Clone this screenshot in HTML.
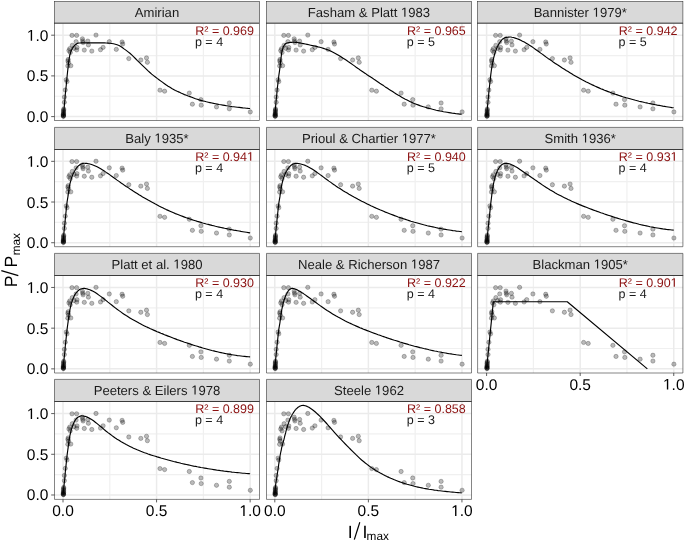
<!DOCTYPE html><html><head><meta charset="utf-8"><title>P/Pmax fits</title><style>html,body{margin:0;padding:0;background:#fff;overflow:hidden}svg{display:block;will-change:transform}text{font-family:"Liberation Sans",sans-serif;text-rendering:geometricPrecision}</style><style>circle{fill:#000;fill-opacity:.27;stroke:#000;stroke-opacity:.3;stroke-width:.8}.cv{fill:none;stroke:#000;stroke-width:1.15;stroke-linejoin:round}.bd{stroke:#333;stroke-width:0.6}.tk{stroke:#333;stroke-width:0.8}.r2{font-size:12.5px;fill:#8B1010}.pp{font-size:12.5px;fill:#1a1a1a}.st{font-size:13.1px;fill:#1A1A1A;text-anchor:middle}.h1{fill-opacity:0}.ax{font-size:15.5px;fill:#000}</style></head><body>
<svg width="685" height="542" viewBox="0 0 685 542">
<rect x="0" y="0" width="685" height="542" fill="#fff"/>
<line x1="109.79" y1="23.40" x2="109.79" y2="120.50" stroke="#F0F0F0" stroke-width="1.2"/>
<line x1="54.50" y1="96.25" x2="259.50" y2="96.25" stroke="#F0F0F0" stroke-width="1.2"/>
<line x1="203.36" y1="23.40" x2="203.36" y2="120.50" stroke="#F0F0F0" stroke-width="1.2"/>
<line x1="54.50" y1="55.55" x2="259.50" y2="55.55" stroke="#F0F0F0" stroke-width="1.2"/>
<line x1="63.00" y1="23.40" x2="63.00" y2="120.50" stroke="#EBEBEB" stroke-width="1.5"/>
<line x1="54.50" y1="116.60" x2="259.50" y2="116.60" stroke="#EBEBEB" stroke-width="1.5"/>
<line x1="156.57" y1="23.40" x2="156.57" y2="120.50" stroke="#EBEBEB" stroke-width="1.5"/>
<line x1="54.50" y1="75.90" x2="259.50" y2="75.90" stroke="#EBEBEB" stroke-width="1.5"/>
<line x1="250.15" y1="23.40" x2="250.15" y2="120.50" stroke="#EBEBEB" stroke-width="1.5"/>
<line x1="54.50" y1="35.20" x2="259.50" y2="35.20" stroke="#EBEBEB" stroke-width="1.5"/>
<circle cx="72.00" cy="35.40" r="2.15"/>
<circle cx="76.60" cy="35.40" r="2.15"/>
<circle cx="96.00" cy="35.10" r="2.15"/>
<circle cx="82.40" cy="38.80" r="2.15"/>
<circle cx="76.10" cy="41.70" r="2.15"/>
<circle cx="87.80" cy="41.10" r="2.15"/>
<circle cx="83.10" cy="42.60" r="2.15"/>
<circle cx="88.40" cy="44.90" r="2.15"/>
<circle cx="72.30" cy="45.30" r="2.15"/>
<circle cx="69.70" cy="48.70" r="2.15"/>
<circle cx="77.00" cy="47.50" r="2.15"/>
<circle cx="76.70" cy="49.90" r="2.15"/>
<circle cx="84.30" cy="50.10" r="2.15"/>
<circle cx="91.80" cy="51.10" r="2.15"/>
<circle cx="70.30" cy="52.50" r="2.15"/>
<circle cx="100.50" cy="49.70" r="2.15"/>
<circle cx="103.10" cy="47.40" r="2.15"/>
<circle cx="109.30" cy="41.70" r="2.15"/>
<circle cx="116.30" cy="49.40" r="2.15"/>
<circle cx="122.10" cy="42.00" r="2.15"/>
<circle cx="122.70" cy="44.00" r="2.15"/>
<circle cx="128.80" cy="58.60" r="2.15"/>
<circle cx="140.80" cy="60.00" r="2.15"/>
<circle cx="146.50" cy="57.90" r="2.15"/>
<circle cx="147.40" cy="62.30" r="2.15"/>
<circle cx="160.00" cy="90.20" r="2.15"/>
<circle cx="164.60" cy="91.20" r="2.15"/>
<circle cx="189.30" cy="93.10" r="2.15"/>
<circle cx="192.40" cy="104.20" r="2.15"/>
<circle cx="200.90" cy="99.60" r="2.15"/>
<circle cx="201.20" cy="105.20" r="2.15"/>
<circle cx="216.50" cy="106.90" r="2.15"/>
<circle cx="229.30" cy="103.00" r="2.15"/>
<circle cx="229.30" cy="108.80" r="2.15"/>
<circle cx="250.30" cy="111.90" r="2.15"/>
<circle cx="68.90" cy="50.60" r="2.15"/>
<circle cx="67.90" cy="61.00" r="2.15"/>
<circle cx="70.80" cy="65.70" r="2.15"/>
<circle cx="67.80" cy="65.90" r="2.15"/>
<circle cx="66.30" cy="79.70" r="2.15"/>
<circle cx="67.00" cy="81.60" r="2.15"/>
<circle cx="65.30" cy="90.00" r="2.15"/>
<circle cx="64.40" cy="97.10" r="2.15"/>
<circle cx="64.40" cy="102.30" r="2.15"/>
<circle cx="63.70" cy="110.00" r="2.15"/>
<circle cx="63.50" cy="113.20" r="2.15"/>
<circle cx="63.50" cy="115.80" r="2.15"/>
<circle cx="63.30" cy="114.50" r="2.15"/>
<circle cx="63.60" cy="112.00" r="2.15"/>
<circle cx="63.40" cy="116.00" r="2.15"/>
<circle cx="73.90" cy="48.30" r="2.15"/>
<circle cx="68.20" cy="59.50" r="2.15"/>
<circle cx="68.60" cy="62.80" r="2.15"/>
<circle cx="63.50" cy="111.00" r="2.15"/>
<circle cx="63.60" cy="114.00" r="2.15"/>
<circle cx="63.40" cy="116.30" r="2.15"/>
<circle cx="63.70" cy="109.00" r="2.15"/>
<circle cx="63.30" cy="115.20" r="2.15"/>
<circle cx="82.70" cy="40.90" r="2.15"/>
<path d="M63.0,116.6L63.3,115.7L63.6,114.1L63.8,111.7L64.1,108.6L64.4,105.1L64.7,101.6L65.0,98.4L65.2,95.4L65.5,92.5L65.8,89.5L66.1,86.7L66.4,83.8L66.7,81.0L66.9,78.1L67.2,75.3L67.5,72.5L67.8,69.8L68.1,67.4L68.3,65.0L68.6,62.7L68.9,60.5L69.2,58.5L69.5,56.9L69.7,55.6L70.0,54.5L70.3,53.5L70.6,52.6L70.9,51.8L71.1,51.1L71.4,50.4L71.7,49.8L72.0,49.2L72.3,48.7L72.6,48.2L72.8,47.7L73.1,47.3L73.4,46.9L73.7,46.5L74.0,46.1L74.2,45.8L74.5,45.5L74.8,45.3L75.1,45.0L75.4,44.8L75.6,44.6L75.9,44.4L76.2,44.2L76.5,44.0L76.8,43.8L77.0,43.6L77.3,43.5L77.6,43.3L77.9,43.2L78.2,43.1L78.4,43.1L78.7,43.0L79.0,43.0L79.3,43.0L79.6,43.0L79.9,43.0L80.1,43.0L80.4,43.0L80.7,43.0L81.0,42.9L81.3,42.9L81.5,42.9L81.8,42.9L82.1,42.9L82.4,42.9L82.7,42.9L82.9,42.9L83.2,42.9L83.5,42.9L83.8,42.9L84.1,42.9L84.3,42.9L84.6,42.9L84.9,42.9L85.2,42.9L85.5,42.9L85.8,42.9L86.0,42.9L86.3,42.9L86.6,42.9L86.9,42.9L87.2,42.9L87.4,42.9L87.7,42.9L88.0,42.9L89.8,42.9L91.6,42.9L93.5,42.9L95.3,42.9L97.1,42.9L98.9,42.9L100.7,42.9L102.6,42.9L104.4,42.9L106.2,43.0L108.0,43.1L109.9,43.3L111.7,43.5L113.5,43.8L115.3,44.2L117.1,44.8L119.0,45.5L120.8,46.5L122.6,47.7L124.4,49.1L126.2,50.4L128.1,51.9L129.9,53.3L131.7,54.9L133.5,56.6L135.4,58.5L137.2,60.4L139.0,62.2L140.8,63.9L142.6,65.6L144.5,67.4L146.3,69.1L148.1,70.9L149.9,72.5L151.7,74.1L153.6,75.6L155.4,77.0L157.2,78.4L159.0,79.7L160.9,81.1L162.7,82.4L164.5,83.7L166.3,85.0L168.1,86.2L170.0,87.3L171.8,88.4L173.6,89.4L175.4,90.4L177.2,91.3L179.1,92.1L180.9,93.0L182.7,93.8L184.5,94.6L186.4,95.3L188.2,96.0L190.0,96.6L191.8,97.3L193.6,98.0L195.5,98.7L197.3,99.3L199.1,99.9L200.9,100.4L202.7,100.9L204.6,101.3L206.4,101.8L208.2,102.2L210.0,102.6L211.9,103.0L213.7,103.4L215.5,103.7L217.3,104.1L219.1,104.5L221.0,104.8L222.8,105.1L224.6,105.4L226.4,105.7L228.2,106.0L230.1,106.3L231.9,106.6L233.7,106.8L235.5,107.0L237.4,107.2L239.2,107.4L241.0,107.6L242.8,107.9L244.6,108.0L246.5,108.2L248.3,108.4L250.1,108.5" class="cv"/>
<text x="195.24" y="34.60" class="r2">R² = 0.969</text>
<text x="194.94" y="45.70" class="pp">p = 4</text>
<rect x="54.50" y="1.50" width="205.00" height="21.45" fill="#D9D9D9" class="bd"/>
<rect x="54.50" y="23.40" width="205.00" height="97.10" fill="none" class="bd"/>
<text x="157.00" y="16.65" class="st">Amirian</text>
<line x1="51.20" y1="116.60" x2="54.50" y2="116.60" class="tk"/>
<text x="48.40" y="122.10" class="ax" text-anchor="end">0.0</text>
<line x1="51.20" y1="75.90" x2="54.50" y2="75.90" class="tk"/>
<text x="48.40" y="81.40" class="ax" text-anchor="end">0.5</text>
<line x1="51.20" y1="35.20" x2="54.50" y2="35.20" class="tk"/>
<text x="48.40" y="40.70" class="ax" text-anchor="end"><tspan class="h1">1</tspan>.0</text>
<line x1="321.59" y1="23.40" x2="321.59" y2="120.50" stroke="#F0F0F0" stroke-width="1.2"/>
<line x1="266.50" y1="96.25" x2="471.50" y2="96.25" stroke="#F0F0F0" stroke-width="1.2"/>
<line x1="415.16" y1="23.40" x2="415.16" y2="120.50" stroke="#F0F0F0" stroke-width="1.2"/>
<line x1="266.50" y1="55.55" x2="471.50" y2="55.55" stroke="#F0F0F0" stroke-width="1.2"/>
<line x1="274.80" y1="23.40" x2="274.80" y2="120.50" stroke="#EBEBEB" stroke-width="1.5"/>
<line x1="266.50" y1="116.60" x2="471.50" y2="116.60" stroke="#EBEBEB" stroke-width="1.5"/>
<line x1="368.38" y1="23.40" x2="368.38" y2="120.50" stroke="#EBEBEB" stroke-width="1.5"/>
<line x1="266.50" y1="75.90" x2="471.50" y2="75.90" stroke="#EBEBEB" stroke-width="1.5"/>
<line x1="461.95" y1="23.40" x2="461.95" y2="120.50" stroke="#EBEBEB" stroke-width="1.5"/>
<line x1="266.50" y1="35.20" x2="471.50" y2="35.20" stroke="#EBEBEB" stroke-width="1.5"/>
<circle cx="283.80" cy="35.40" r="2.15"/>
<circle cx="288.40" cy="35.40" r="2.15"/>
<circle cx="307.80" cy="35.10" r="2.15"/>
<circle cx="294.20" cy="38.80" r="2.15"/>
<circle cx="287.90" cy="41.70" r="2.15"/>
<circle cx="299.60" cy="41.10" r="2.15"/>
<circle cx="294.90" cy="42.60" r="2.15"/>
<circle cx="300.20" cy="44.90" r="2.15"/>
<circle cx="284.10" cy="45.30" r="2.15"/>
<circle cx="281.50" cy="48.70" r="2.15"/>
<circle cx="288.80" cy="47.50" r="2.15"/>
<circle cx="288.50" cy="49.90" r="2.15"/>
<circle cx="296.10" cy="50.10" r="2.15"/>
<circle cx="303.60" cy="51.10" r="2.15"/>
<circle cx="282.10" cy="52.50" r="2.15"/>
<circle cx="312.30" cy="49.70" r="2.15"/>
<circle cx="314.90" cy="47.40" r="2.15"/>
<circle cx="321.10" cy="41.70" r="2.15"/>
<circle cx="328.10" cy="49.40" r="2.15"/>
<circle cx="333.90" cy="42.00" r="2.15"/>
<circle cx="334.50" cy="44.00" r="2.15"/>
<circle cx="340.60" cy="58.60" r="2.15"/>
<circle cx="352.60" cy="60.00" r="2.15"/>
<circle cx="358.30" cy="57.90" r="2.15"/>
<circle cx="359.20" cy="62.30" r="2.15"/>
<circle cx="371.80" cy="90.20" r="2.15"/>
<circle cx="376.40" cy="91.20" r="2.15"/>
<circle cx="401.10" cy="93.10" r="2.15"/>
<circle cx="404.20" cy="104.20" r="2.15"/>
<circle cx="412.70" cy="99.60" r="2.15"/>
<circle cx="413.00" cy="105.20" r="2.15"/>
<circle cx="428.30" cy="106.90" r="2.15"/>
<circle cx="441.10" cy="103.00" r="2.15"/>
<circle cx="441.10" cy="108.80" r="2.15"/>
<circle cx="462.10" cy="111.90" r="2.15"/>
<circle cx="280.70" cy="50.60" r="2.15"/>
<circle cx="279.70" cy="61.00" r="2.15"/>
<circle cx="282.60" cy="65.70" r="2.15"/>
<circle cx="279.60" cy="65.90" r="2.15"/>
<circle cx="278.10" cy="79.70" r="2.15"/>
<circle cx="278.80" cy="81.60" r="2.15"/>
<circle cx="277.10" cy="90.00" r="2.15"/>
<circle cx="276.20" cy="97.10" r="2.15"/>
<circle cx="276.20" cy="102.30" r="2.15"/>
<circle cx="275.50" cy="110.00" r="2.15"/>
<circle cx="275.30" cy="113.20" r="2.15"/>
<circle cx="275.30" cy="115.80" r="2.15"/>
<circle cx="275.10" cy="114.50" r="2.15"/>
<circle cx="275.40" cy="112.00" r="2.15"/>
<circle cx="275.20" cy="116.00" r="2.15"/>
<circle cx="285.70" cy="48.30" r="2.15"/>
<circle cx="280.00" cy="59.50" r="2.15"/>
<circle cx="280.40" cy="62.80" r="2.15"/>
<circle cx="275.30" cy="111.00" r="2.15"/>
<circle cx="275.40" cy="114.00" r="2.15"/>
<circle cx="275.20" cy="116.30" r="2.15"/>
<circle cx="275.50" cy="109.00" r="2.15"/>
<circle cx="275.10" cy="115.20" r="2.15"/>
<circle cx="294.50" cy="40.90" r="2.15"/>
<path d="M274.8,116.6L275.1,113.1L275.4,109.7L275.6,106.4L275.9,103.2L276.2,100.1L276.5,97.1L276.8,94.2L277.0,91.4L277.3,88.6L277.6,86.0L277.9,83.5L278.2,81.0L278.5,78.7L278.7,76.5L279.0,74.4L279.3,72.3L279.6,70.1L279.9,67.9L280.1,65.5L280.4,63.0L280.7,60.4L281.0,58.0L281.3,56.0L281.5,54.1L281.8,52.3L282.1,50.9L282.4,49.8L282.7,48.8L282.9,47.9L283.2,47.1L283.5,46.5L283.8,45.9L284.1,45.5L284.4,45.1L284.6,44.7L284.9,44.3L285.2,44.0L285.5,43.8L285.8,43.6L286.0,43.4L286.3,43.3L286.6,43.2L286.9,43.1L287.2,43.0L287.4,42.9L287.7,42.8L288.0,42.7L288.3,42.7L288.6,42.6L288.8,42.6L289.1,42.5L289.4,42.5L289.7,42.5L290.0,42.4L290.2,42.4L290.5,42.4L290.8,42.3L291.1,42.3L291.4,42.3L291.7,42.3L291.9,42.3L292.2,42.2L292.5,42.2L292.8,42.2L293.1,42.2L293.3,42.2L293.6,42.2L293.9,42.2L294.2,42.2L294.5,42.2L294.7,42.2L295.0,42.3L295.3,42.3L295.6,42.3L295.9,42.3L296.1,42.4L296.4,42.4L296.7,42.4L297.0,42.5L297.3,42.5L297.6,42.5L297.8,42.6L298.1,42.6L298.4,42.7L298.7,42.7L299.0,42.7L299.2,42.8L299.5,42.8L299.8,42.9L301.6,43.2L303.4,43.6L305.3,44.0L307.1,44.4L308.9,44.8L310.7,45.2L312.5,45.6L314.4,46.0L316.2,46.4L318.0,46.9L319.8,47.3L321.6,47.8L323.4,48.4L325.3,49.0L327.1,49.6L328.9,50.3L330.7,51.1L332.5,52.0L334.4,52.9L336.2,53.9L338.0,54.9L339.8,56.0L341.6,57.2L343.5,58.4L345.3,59.6L347.1,60.8L348.9,62.1L350.7,63.3L352.6,64.6L354.4,65.9L356.2,67.2L358.0,68.4L359.8,69.7L361.6,70.9L363.5,72.2L365.3,73.4L367.1,74.7L368.9,75.9L370.7,77.1L372.6,78.3L374.4,79.6L376.2,80.8L378.0,82.0L379.8,83.2L381.7,84.4L383.5,85.6L385.3,86.9L387.1,88.1L388.9,89.3L390.8,90.4L392.6,91.6L394.4,92.8L396.2,93.9L398.0,95.0L399.9,96.1L401.7,97.2L403.5,98.2L405.3,99.2L407.1,100.1L408.9,101.0L410.8,101.9L412.6,102.7L414.4,103.5L416.2,104.2L418.0,104.9L419.9,105.6L421.7,106.2L423.5,106.8L425.3,107.3L427.1,107.9L429.0,108.4L430.8,108.8L432.6,109.3L434.4,109.7L436.2,110.2L438.1,110.6L439.9,111.0L441.7,111.3L443.5,111.7L445.3,112.0L447.1,112.3L449.0,112.6L450.8,112.9L452.6,113.2L454.4,113.4L456.2,113.7L458.1,113.9L459.9,114.1L461.7,114.3" class="cv"/>
<text x="407.04" y="34.60" class="r2">R² = 0.965</text>
<text x="406.74" y="45.70" class="pp">p = 5</text>
<rect x="266.50" y="1.50" width="205.00" height="21.45" fill="#D9D9D9" class="bd"/>
<rect x="266.50" y="23.40" width="205.00" height="97.10" fill="none" class="bd"/>
<text x="369.00" y="16.65" class="st">Fasham &amp; Platt <tspan class="h1">1</tspan>983</text>
<line x1="533.39" y1="23.40" x2="533.39" y2="120.50" stroke="#F0F0F0" stroke-width="1.2"/>
<line x1="477.60" y1="96.25" x2="682.90" y2="96.25" stroke="#F0F0F0" stroke-width="1.2"/>
<line x1="626.96" y1="23.40" x2="626.96" y2="120.50" stroke="#F0F0F0" stroke-width="1.2"/>
<line x1="477.60" y1="55.55" x2="682.90" y2="55.55" stroke="#F0F0F0" stroke-width="1.2"/>
<line x1="486.60" y1="23.40" x2="486.60" y2="120.50" stroke="#EBEBEB" stroke-width="1.5"/>
<line x1="477.60" y1="116.60" x2="682.90" y2="116.60" stroke="#EBEBEB" stroke-width="1.5"/>
<line x1="580.18" y1="23.40" x2="580.18" y2="120.50" stroke="#EBEBEB" stroke-width="1.5"/>
<line x1="477.60" y1="75.90" x2="682.90" y2="75.90" stroke="#EBEBEB" stroke-width="1.5"/>
<line x1="673.75" y1="23.40" x2="673.75" y2="120.50" stroke="#EBEBEB" stroke-width="1.5"/>
<line x1="477.60" y1="35.20" x2="682.90" y2="35.20" stroke="#EBEBEB" stroke-width="1.5"/>
<circle cx="495.60" cy="35.40" r="2.15"/>
<circle cx="500.20" cy="35.40" r="2.15"/>
<circle cx="519.60" cy="35.10" r="2.15"/>
<circle cx="506.00" cy="38.80" r="2.15"/>
<circle cx="499.70" cy="41.70" r="2.15"/>
<circle cx="511.40" cy="41.10" r="2.15"/>
<circle cx="506.70" cy="42.60" r="2.15"/>
<circle cx="512.00" cy="44.90" r="2.15"/>
<circle cx="495.90" cy="45.30" r="2.15"/>
<circle cx="493.30" cy="48.70" r="2.15"/>
<circle cx="500.60" cy="47.50" r="2.15"/>
<circle cx="500.30" cy="49.90" r="2.15"/>
<circle cx="507.90" cy="50.10" r="2.15"/>
<circle cx="515.40" cy="51.10" r="2.15"/>
<circle cx="493.90" cy="52.50" r="2.15"/>
<circle cx="524.10" cy="49.70" r="2.15"/>
<circle cx="526.70" cy="47.40" r="2.15"/>
<circle cx="532.90" cy="41.70" r="2.15"/>
<circle cx="539.90" cy="49.40" r="2.15"/>
<circle cx="545.70" cy="42.00" r="2.15"/>
<circle cx="546.30" cy="44.00" r="2.15"/>
<circle cx="552.40" cy="58.60" r="2.15"/>
<circle cx="564.40" cy="60.00" r="2.15"/>
<circle cx="570.10" cy="57.90" r="2.15"/>
<circle cx="571.00" cy="62.30" r="2.15"/>
<circle cx="583.60" cy="90.20" r="2.15"/>
<circle cx="588.20" cy="91.20" r="2.15"/>
<circle cx="612.90" cy="93.10" r="2.15"/>
<circle cx="616.00" cy="104.20" r="2.15"/>
<circle cx="624.50" cy="99.60" r="2.15"/>
<circle cx="624.80" cy="105.20" r="2.15"/>
<circle cx="640.10" cy="106.90" r="2.15"/>
<circle cx="652.90" cy="103.00" r="2.15"/>
<circle cx="652.90" cy="108.80" r="2.15"/>
<circle cx="673.90" cy="111.90" r="2.15"/>
<circle cx="492.50" cy="50.60" r="2.15"/>
<circle cx="491.50" cy="61.00" r="2.15"/>
<circle cx="494.40" cy="65.70" r="2.15"/>
<circle cx="491.40" cy="65.90" r="2.15"/>
<circle cx="489.90" cy="79.70" r="2.15"/>
<circle cx="490.60" cy="81.60" r="2.15"/>
<circle cx="488.90" cy="90.00" r="2.15"/>
<circle cx="488.00" cy="97.10" r="2.15"/>
<circle cx="488.00" cy="102.30" r="2.15"/>
<circle cx="487.30" cy="110.00" r="2.15"/>
<circle cx="487.10" cy="113.20" r="2.15"/>
<circle cx="487.10" cy="115.80" r="2.15"/>
<circle cx="486.90" cy="114.50" r="2.15"/>
<circle cx="487.20" cy="112.00" r="2.15"/>
<circle cx="487.00" cy="116.00" r="2.15"/>
<circle cx="497.50" cy="48.30" r="2.15"/>
<circle cx="491.80" cy="59.50" r="2.15"/>
<circle cx="492.20" cy="62.80" r="2.15"/>
<circle cx="487.10" cy="111.00" r="2.15"/>
<circle cx="487.20" cy="114.00" r="2.15"/>
<circle cx="487.00" cy="116.30" r="2.15"/>
<circle cx="487.30" cy="109.00" r="2.15"/>
<circle cx="486.90" cy="115.20" r="2.15"/>
<circle cx="506.30" cy="40.90" r="2.15"/>
<path d="M486.6,116.6L486.9,113.5L487.2,110.4L487.4,107.4L487.7,104.4L488.0,101.5L488.3,98.5L488.6,95.6L488.8,92.7L489.1,89.9L489.4,87.2L489.7,84.5L490.0,82.0L490.3,79.5L490.5,77.1L490.8,74.6L491.1,72.2L491.4,70.0L491.7,68.1L491.9,66.4L492.2,64.9L492.5,63.4L492.8,62.0L493.1,60.7L493.3,59.4L493.6,58.2L493.9,57.0L494.2,55.8L494.5,54.8L494.7,53.8L495.0,52.9L495.3,52.0L495.6,51.2L495.9,50.4L496.2,49.7L496.4,49.0L496.7,48.3L497.0,47.7L497.3,47.1L497.6,46.5L497.8,46.0L498.1,45.4L498.4,44.9L498.7,44.4L499.0,43.9L499.2,43.5L499.5,43.0L499.8,42.6L500.1,42.2L500.4,41.7L500.6,41.3L500.9,40.9L501.2,40.6L501.5,40.2L501.8,39.9L502.0,39.6L502.3,39.3L502.6,39.1L502.9,38.9L503.2,38.7L503.5,38.6L503.7,38.4L504.0,38.2L504.3,38.1L504.6,37.9L504.9,37.8L505.1,37.7L505.4,37.6L505.7,37.5L506.0,37.4L506.3,37.4L506.5,37.3L506.8,37.3L507.1,37.3L507.4,37.2L507.7,37.2L507.9,37.2L508.2,37.1L508.5,37.1L508.8,37.1L509.1,37.1L509.4,37.0L509.6,37.0L509.9,37.0L510.2,37.0L510.5,37.0L510.8,37.0L511.0,37.0L511.3,37.0L511.6,37.1L513.4,37.5L515.2,38.1L517.1,38.7L518.9,39.4L520.7,40.2L522.5,41.2L524.3,42.1L526.2,43.2L528.0,44.3L529.8,45.4L531.6,46.6L533.5,47.9L535.3,49.2L537.1,50.5L538.9,51.8L540.7,53.1L542.6,54.4L544.4,55.8L546.2,57.1L548.0,58.4L549.8,59.6L551.7,60.9L553.5,62.2L555.3,63.4L557.1,64.6L559.0,65.8L560.8,67.0L562.6,68.2L564.4,69.3L566.2,70.5L568.1,71.6L569.9,72.7L571.7,73.8L573.5,74.9L575.3,75.9L577.2,77.0L579.0,78.0L580.8,79.0L582.6,80.0L584.5,80.9L586.3,81.9L588.1,82.8L589.9,83.7L591.7,84.6L593.6,85.4L595.4,86.3L597.2,87.1L599.0,87.9L600.8,88.7L602.7,89.4L604.5,90.2L606.3,90.9L608.1,91.6L610.0,92.3L611.8,93.0L613.6,93.6L615.4,94.3L617.2,94.9L619.1,95.5L620.9,96.1L622.7,96.7L624.5,97.2L626.3,97.8L628.2,98.3L630.0,98.8L631.8,99.3L633.6,99.8L635.5,100.3L637.3,100.7L639.1,101.2L640.9,101.6L642.7,102.0L644.6,102.5L646.4,102.9L648.2,103.3L650.0,103.6L651.8,104.0L653.7,104.4L655.5,104.7L657.3,105.1L659.1,105.4L661.0,105.7L662.8,106.1L664.6,106.4L666.4,106.7L668.2,107.0L670.1,107.3L671.9,107.6L673.7,107.8" class="cv"/>
<text x="618.84" y="34.60" class="r2">R² = 0.942</text>
<text x="618.54" y="45.70" class="pp">p = 5</text>
<rect x="477.60" y="1.50" width="205.30" height="21.45" fill="#D9D9D9" class="bd"/>
<rect x="477.60" y="23.40" width="205.30" height="97.10" fill="none" class="bd"/>
<text x="580.25" y="16.65" class="st">Bannister <tspan class="h1">1</tspan>979*</text>
<line x1="109.79" y1="149.30" x2="109.79" y2="246.70" stroke="#F0F0F0" stroke-width="1.2"/>
<line x1="54.50" y1="222.38" x2="259.50" y2="222.38" stroke="#F0F0F0" stroke-width="1.2"/>
<line x1="203.36" y1="149.30" x2="203.36" y2="246.70" stroke="#F0F0F0" stroke-width="1.2"/>
<line x1="54.50" y1="181.68" x2="259.50" y2="181.68" stroke="#F0F0F0" stroke-width="1.2"/>
<line x1="63.00" y1="149.30" x2="63.00" y2="246.70" stroke="#EBEBEB" stroke-width="1.5"/>
<line x1="54.50" y1="242.73" x2="259.50" y2="242.73" stroke="#EBEBEB" stroke-width="1.5"/>
<line x1="156.57" y1="149.30" x2="156.57" y2="246.70" stroke="#EBEBEB" stroke-width="1.5"/>
<line x1="54.50" y1="202.03" x2="259.50" y2="202.03" stroke="#EBEBEB" stroke-width="1.5"/>
<line x1="250.15" y1="149.30" x2="250.15" y2="246.70" stroke="#EBEBEB" stroke-width="1.5"/>
<line x1="54.50" y1="161.33" x2="259.50" y2="161.33" stroke="#EBEBEB" stroke-width="1.5"/>
<circle cx="72.00" cy="161.53" r="2.15"/>
<circle cx="76.60" cy="161.53" r="2.15"/>
<circle cx="96.00" cy="161.23" r="2.15"/>
<circle cx="82.40" cy="164.93" r="2.15"/>
<circle cx="76.10" cy="167.83" r="2.15"/>
<circle cx="87.80" cy="167.23" r="2.15"/>
<circle cx="83.10" cy="168.73" r="2.15"/>
<circle cx="88.40" cy="171.03" r="2.15"/>
<circle cx="72.30" cy="171.43" r="2.15"/>
<circle cx="69.70" cy="174.83" r="2.15"/>
<circle cx="77.00" cy="173.63" r="2.15"/>
<circle cx="76.70" cy="176.03" r="2.15"/>
<circle cx="84.30" cy="176.23" r="2.15"/>
<circle cx="91.80" cy="177.23" r="2.15"/>
<circle cx="70.30" cy="178.63" r="2.15"/>
<circle cx="100.50" cy="175.83" r="2.15"/>
<circle cx="103.10" cy="173.53" r="2.15"/>
<circle cx="109.30" cy="167.83" r="2.15"/>
<circle cx="116.30" cy="175.53" r="2.15"/>
<circle cx="122.10" cy="168.13" r="2.15"/>
<circle cx="122.70" cy="170.13" r="2.15"/>
<circle cx="128.80" cy="184.73" r="2.15"/>
<circle cx="140.80" cy="186.13" r="2.15"/>
<circle cx="146.50" cy="184.03" r="2.15"/>
<circle cx="147.40" cy="188.43" r="2.15"/>
<circle cx="160.00" cy="216.33" r="2.15"/>
<circle cx="164.60" cy="217.33" r="2.15"/>
<circle cx="189.30" cy="219.23" r="2.15"/>
<circle cx="192.40" cy="230.33" r="2.15"/>
<circle cx="200.90" cy="225.73" r="2.15"/>
<circle cx="201.20" cy="231.33" r="2.15"/>
<circle cx="216.50" cy="233.03" r="2.15"/>
<circle cx="229.30" cy="229.13" r="2.15"/>
<circle cx="229.30" cy="234.93" r="2.15"/>
<circle cx="250.30" cy="238.03" r="2.15"/>
<circle cx="68.90" cy="176.73" r="2.15"/>
<circle cx="67.90" cy="187.13" r="2.15"/>
<circle cx="70.80" cy="191.83" r="2.15"/>
<circle cx="67.80" cy="192.03" r="2.15"/>
<circle cx="66.30" cy="205.83" r="2.15"/>
<circle cx="67.00" cy="207.73" r="2.15"/>
<circle cx="65.30" cy="216.13" r="2.15"/>
<circle cx="64.40" cy="223.23" r="2.15"/>
<circle cx="64.40" cy="228.43" r="2.15"/>
<circle cx="63.70" cy="236.13" r="2.15"/>
<circle cx="63.50" cy="239.33" r="2.15"/>
<circle cx="63.50" cy="241.93" r="2.15"/>
<circle cx="63.30" cy="240.63" r="2.15"/>
<circle cx="63.60" cy="238.13" r="2.15"/>
<circle cx="63.40" cy="242.13" r="2.15"/>
<circle cx="73.90" cy="174.43" r="2.15"/>
<circle cx="68.20" cy="185.63" r="2.15"/>
<circle cx="68.60" cy="188.93" r="2.15"/>
<circle cx="63.50" cy="237.13" r="2.15"/>
<circle cx="63.60" cy="240.13" r="2.15"/>
<circle cx="63.40" cy="242.43" r="2.15"/>
<circle cx="63.70" cy="235.13" r="2.15"/>
<circle cx="63.30" cy="241.33" r="2.15"/>
<circle cx="82.70" cy="167.03" r="2.15"/>
<path d="M63.0,242.7L63.3,240.1L63.6,237.2L63.8,234.1L64.1,231.0L64.4,228.0L64.7,225.3L65.0,222.7L65.2,220.0L65.5,217.2L65.8,214.2L66.1,211.0L66.4,208.0L66.7,205.5L66.9,203.3L67.2,201.2L67.5,199.4L67.8,197.5L68.1,195.7L68.3,193.8L68.6,191.9L68.9,189.9L69.2,188.0L69.5,186.4L69.7,184.9L70.0,183.6L70.3,182.4L70.6,181.3L70.9,180.2L71.1,179.3L71.4,178.4L71.7,177.5L72.0,176.7L72.3,176.0L72.6,175.3L72.8,174.6L73.1,174.0L73.4,173.3L73.7,172.8L74.0,172.2L74.2,171.7L74.5,171.2L74.8,170.7L75.1,170.2L75.4,169.7L75.6,169.3L75.9,168.9L76.2,168.4L76.5,168.0L76.8,167.7L77.0,167.3L77.3,167.0L77.6,166.7L77.9,166.4L78.2,166.1L78.4,165.9L78.7,165.6L79.0,165.4L79.3,165.2L79.6,164.9L79.9,164.8L80.1,164.6L80.4,164.4L80.7,164.3L81.0,164.2L81.3,164.0L81.5,163.9L81.8,163.8L82.1,163.7L82.4,163.6L82.7,163.5L82.9,163.4L83.2,163.3L83.5,163.3L83.8,163.2L84.1,163.2L84.3,163.2L84.6,163.2L84.9,163.2L85.2,163.3L85.5,163.3L85.8,163.3L86.0,163.3L86.3,163.4L86.6,163.4L86.9,163.4L87.2,163.5L87.4,163.5L87.7,163.5L88.0,163.6L89.8,164.0L91.6,164.5L93.5,165.2L95.3,166.0L97.1,166.8L98.9,167.8L100.7,168.8L102.6,170.0L104.4,171.1L106.2,172.4L108.0,173.6L109.9,174.9L111.7,176.2L113.5,177.5L115.3,178.8L117.1,180.1L119.0,181.4L120.8,182.7L122.6,183.9L124.4,185.2L126.2,186.4L128.1,187.6L129.9,188.9L131.7,190.0L133.5,191.2L135.4,192.4L137.2,193.5L139.0,194.7L140.8,195.8L142.6,196.9L144.5,198.0L146.3,199.0L148.1,200.1L149.9,201.1L151.7,202.1L153.6,203.1L155.4,204.1L157.2,205.0L159.0,206.0L160.9,206.9L162.7,207.8L164.5,208.7L166.3,209.6L168.1,210.4L170.0,211.2L171.8,212.0L173.6,212.8L175.4,213.6L177.2,214.3L179.1,215.0L180.9,215.7L182.7,216.4L184.5,217.1L186.4,217.8L188.2,218.4L190.0,219.0L191.8,219.6L193.6,220.2L195.5,220.8L197.3,221.4L199.1,221.9L200.9,222.4L202.7,223.0L204.6,223.5L206.4,224.0L208.2,224.4L210.0,224.9L211.9,225.4L213.7,225.8L215.5,226.3L217.3,226.7L219.1,227.1L221.0,227.5L222.8,227.9L224.6,228.3L226.4,228.6L228.2,229.0L230.1,229.4L231.9,229.7L233.7,230.1L235.5,230.4L237.4,230.7L239.2,231.0L241.0,231.4L242.8,231.7L244.6,232.0L246.5,232.3L248.3,232.6L250.1,232.9" class="cv"/>
<text x="195.24" y="160.73" class="r2">R² = 0.94<tspan class="h1">1</tspan></text>
<text x="194.94" y="171.83" class="pp">p = 4</text>
<rect x="54.50" y="127.40" width="205.00" height="22.10" fill="#D9D9D9"/>
<path d="M54.50,149.50V127.40H259.50V149.50M54.50,149.50V246.70H259.50V149.50" fill="none" class="bd"/>
<line x1="54.20" y1="149.50" x2="259.80" y2="149.50" stroke="#3c3c3c" stroke-width="1"/>
<text x="157.00" y="142.55" class="st">Baly <tspan class="h1">1</tspan>935*</text>
<line x1="51.20" y1="242.73" x2="54.50" y2="242.73" class="tk"/>
<text x="48.40" y="248.23" class="ax" text-anchor="end">0.0</text>
<line x1="51.20" y1="202.03" x2="54.50" y2="202.03" class="tk"/>
<text x="48.40" y="207.53" class="ax" text-anchor="end">0.5</text>
<line x1="51.20" y1="161.33" x2="54.50" y2="161.33" class="tk"/>
<text x="48.40" y="166.83" class="ax" text-anchor="end"><tspan class="h1">1</tspan>.0</text>
<line x1="321.59" y1="149.30" x2="321.59" y2="246.70" stroke="#F0F0F0" stroke-width="1.2"/>
<line x1="266.50" y1="222.38" x2="471.50" y2="222.38" stroke="#F0F0F0" stroke-width="1.2"/>
<line x1="415.16" y1="149.30" x2="415.16" y2="246.70" stroke="#F0F0F0" stroke-width="1.2"/>
<line x1="266.50" y1="181.68" x2="471.50" y2="181.68" stroke="#F0F0F0" stroke-width="1.2"/>
<line x1="274.80" y1="149.30" x2="274.80" y2="246.70" stroke="#EBEBEB" stroke-width="1.5"/>
<line x1="266.50" y1="242.73" x2="471.50" y2="242.73" stroke="#EBEBEB" stroke-width="1.5"/>
<line x1="368.38" y1="149.30" x2="368.38" y2="246.70" stroke="#EBEBEB" stroke-width="1.5"/>
<line x1="266.50" y1="202.03" x2="471.50" y2="202.03" stroke="#EBEBEB" stroke-width="1.5"/>
<line x1="461.95" y1="149.30" x2="461.95" y2="246.70" stroke="#EBEBEB" stroke-width="1.5"/>
<line x1="266.50" y1="161.33" x2="471.50" y2="161.33" stroke="#EBEBEB" stroke-width="1.5"/>
<circle cx="283.80" cy="161.53" r="2.15"/>
<circle cx="288.40" cy="161.53" r="2.15"/>
<circle cx="307.80" cy="161.23" r="2.15"/>
<circle cx="294.20" cy="164.93" r="2.15"/>
<circle cx="287.90" cy="167.83" r="2.15"/>
<circle cx="299.60" cy="167.23" r="2.15"/>
<circle cx="294.90" cy="168.73" r="2.15"/>
<circle cx="300.20" cy="171.03" r="2.15"/>
<circle cx="284.10" cy="171.43" r="2.15"/>
<circle cx="281.50" cy="174.83" r="2.15"/>
<circle cx="288.80" cy="173.63" r="2.15"/>
<circle cx="288.50" cy="176.03" r="2.15"/>
<circle cx="296.10" cy="176.23" r="2.15"/>
<circle cx="303.60" cy="177.23" r="2.15"/>
<circle cx="282.10" cy="178.63" r="2.15"/>
<circle cx="312.30" cy="175.83" r="2.15"/>
<circle cx="314.90" cy="173.53" r="2.15"/>
<circle cx="321.10" cy="167.83" r="2.15"/>
<circle cx="328.10" cy="175.53" r="2.15"/>
<circle cx="333.90" cy="168.13" r="2.15"/>
<circle cx="334.50" cy="170.13" r="2.15"/>
<circle cx="340.60" cy="184.73" r="2.15"/>
<circle cx="352.60" cy="186.13" r="2.15"/>
<circle cx="358.30" cy="184.03" r="2.15"/>
<circle cx="359.20" cy="188.43" r="2.15"/>
<circle cx="371.80" cy="216.33" r="2.15"/>
<circle cx="376.40" cy="217.33" r="2.15"/>
<circle cx="401.10" cy="219.23" r="2.15"/>
<circle cx="404.20" cy="230.33" r="2.15"/>
<circle cx="412.70" cy="225.73" r="2.15"/>
<circle cx="413.00" cy="231.33" r="2.15"/>
<circle cx="428.30" cy="233.03" r="2.15"/>
<circle cx="441.10" cy="229.13" r="2.15"/>
<circle cx="441.10" cy="234.93" r="2.15"/>
<circle cx="462.10" cy="238.03" r="2.15"/>
<circle cx="280.70" cy="176.73" r="2.15"/>
<circle cx="279.70" cy="187.13" r="2.15"/>
<circle cx="282.60" cy="191.83" r="2.15"/>
<circle cx="279.60" cy="192.03" r="2.15"/>
<circle cx="278.10" cy="205.83" r="2.15"/>
<circle cx="278.80" cy="207.73" r="2.15"/>
<circle cx="277.10" cy="216.13" r="2.15"/>
<circle cx="276.20" cy="223.23" r="2.15"/>
<circle cx="276.20" cy="228.43" r="2.15"/>
<circle cx="275.50" cy="236.13" r="2.15"/>
<circle cx="275.30" cy="239.33" r="2.15"/>
<circle cx="275.30" cy="241.93" r="2.15"/>
<circle cx="275.10" cy="240.63" r="2.15"/>
<circle cx="275.40" cy="238.13" r="2.15"/>
<circle cx="275.20" cy="242.13" r="2.15"/>
<circle cx="285.70" cy="174.43" r="2.15"/>
<circle cx="280.00" cy="185.63" r="2.15"/>
<circle cx="280.40" cy="188.93" r="2.15"/>
<circle cx="275.30" cy="237.13" r="2.15"/>
<circle cx="275.40" cy="240.13" r="2.15"/>
<circle cx="275.20" cy="242.43" r="2.15"/>
<circle cx="275.50" cy="235.13" r="2.15"/>
<circle cx="275.10" cy="241.33" r="2.15"/>
<circle cx="294.50" cy="167.03" r="2.15"/>
<path d="M274.8,242.7L275.1,239.7L275.4,236.7L275.6,233.8L275.9,230.9L276.2,228.1L276.5,225.3L276.8,222.6L277.0,219.9L277.3,217.2L277.6,214.4L277.9,211.5L278.2,208.8L278.5,206.3L278.7,204.1L279.0,202.2L279.3,200.4L279.6,198.6L279.9,196.9L280.1,195.2L280.4,193.3L280.7,191.3L281.0,189.3L281.3,187.5L281.5,186.0L281.8,184.6L282.1,183.3L282.4,182.1L282.7,181.0L282.9,179.9L283.2,179.0L283.5,178.1L283.8,177.3L284.1,176.5L284.4,175.8L284.6,175.1L284.9,174.4L285.2,173.8L285.5,173.2L285.8,172.6L286.0,172.0L286.3,171.5L286.6,171.0L286.9,170.5L287.2,170.1L287.4,169.6L287.7,169.2L288.0,168.7L288.3,168.3L288.6,167.9L288.8,167.6L289.1,167.2L289.4,166.9L289.7,166.6L290.0,166.3L290.2,166.1L290.5,165.8L290.8,165.5L291.1,165.3L291.4,165.1L291.7,164.9L291.9,164.7L292.2,164.5L292.5,164.4L292.8,164.3L293.1,164.2L293.3,164.0L293.6,163.9L293.9,163.8L294.2,163.7L294.5,163.6L294.7,163.6L295.0,163.5L295.3,163.4L295.6,163.4L295.9,163.4L296.1,163.4L296.4,163.4L296.7,163.4L297.0,163.4L297.3,163.4L297.6,163.4L297.8,163.5L298.1,163.5L298.4,163.5L298.7,163.6L299.0,163.6L299.2,163.7L299.5,163.7L299.8,163.7L301.6,164.2L303.4,164.7L305.3,165.4L307.1,166.3L308.9,167.2L310.7,168.2L312.5,169.3L314.4,170.5L316.2,171.8L318.0,173.1L319.8,174.4L321.7,175.7L323.5,177.1L325.3,178.5L327.1,179.8L328.9,181.1L330.8,182.4L332.6,183.7L334.4,184.9L336.2,186.2L338.0,187.4L339.9,188.6L341.7,189.7L343.5,190.9L345.3,192.0L347.2,193.1L349.0,194.2L350.8,195.2L352.6,196.3L354.4,197.3L356.3,198.3L358.1,199.3L359.9,200.2L361.7,201.2L363.5,202.1L365.4,203.0L367.2,203.9L369.0,204.8L370.8,205.7L372.7,206.5L374.5,207.4L376.3,208.2L378.1,209.0L379.9,209.8L381.8,210.5L383.6,211.3L385.4,212.1L387.2,212.8L389.0,213.5L390.9,214.2L392.7,214.9L394.5,215.6L396.3,216.3L398.2,217.0L400.0,217.6L401.8,218.2L403.6,218.8L405.4,219.4L407.3,220.0L409.1,220.6L410.9,221.2L412.7,221.7L414.5,222.3L416.4,222.8L418.2,223.3L420.0,223.8L421.8,224.3L423.7,224.8L425.5,225.2L427.3,225.7L429.1,226.1L430.9,226.5L432.8,226.9L434.6,227.3L436.4,227.7L438.2,228.1L440.0,228.4L441.9,228.8L443.7,229.1L445.5,229.4L447.3,229.7L449.2,230.0L451.0,230.3L452.8,230.6L454.6,230.8L456.4,231.1L458.3,231.3L460.1,231.5L461.9,231.7" class="cv"/>
<text x="407.04" y="160.73" class="r2">R² = 0.940</text>
<text x="406.74" y="171.83" class="pp">p = 5</text>
<rect x="266.50" y="127.40" width="205.00" height="22.10" fill="#D9D9D9"/>
<path d="M266.50,149.50V127.40H471.50V149.50M266.50,149.50V246.70H471.50V149.50" fill="none" class="bd"/>
<line x1="266.20" y1="149.50" x2="471.80" y2="149.50" stroke="#3c3c3c" stroke-width="1"/>
<text x="369.00" y="142.55" class="st">Prioul &amp; Chartier <tspan class="h1">1</tspan>977*</text>
<line x1="533.39" y1="149.30" x2="533.39" y2="246.70" stroke="#F0F0F0" stroke-width="1.2"/>
<line x1="477.60" y1="222.38" x2="682.90" y2="222.38" stroke="#F0F0F0" stroke-width="1.2"/>
<line x1="626.96" y1="149.30" x2="626.96" y2="246.70" stroke="#F0F0F0" stroke-width="1.2"/>
<line x1="477.60" y1="181.68" x2="682.90" y2="181.68" stroke="#F0F0F0" stroke-width="1.2"/>
<line x1="486.60" y1="149.30" x2="486.60" y2="246.70" stroke="#EBEBEB" stroke-width="1.5"/>
<line x1="477.60" y1="242.73" x2="682.90" y2="242.73" stroke="#EBEBEB" stroke-width="1.5"/>
<line x1="580.18" y1="149.30" x2="580.18" y2="246.70" stroke="#EBEBEB" stroke-width="1.5"/>
<line x1="477.60" y1="202.03" x2="682.90" y2="202.03" stroke="#EBEBEB" stroke-width="1.5"/>
<line x1="673.75" y1="149.30" x2="673.75" y2="246.70" stroke="#EBEBEB" stroke-width="1.5"/>
<line x1="477.60" y1="161.33" x2="682.90" y2="161.33" stroke="#EBEBEB" stroke-width="1.5"/>
<circle cx="495.60" cy="161.53" r="2.15"/>
<circle cx="500.20" cy="161.53" r="2.15"/>
<circle cx="519.60" cy="161.23" r="2.15"/>
<circle cx="506.00" cy="164.93" r="2.15"/>
<circle cx="499.70" cy="167.83" r="2.15"/>
<circle cx="511.40" cy="167.23" r="2.15"/>
<circle cx="506.70" cy="168.73" r="2.15"/>
<circle cx="512.00" cy="171.03" r="2.15"/>
<circle cx="495.90" cy="171.43" r="2.15"/>
<circle cx="493.30" cy="174.83" r="2.15"/>
<circle cx="500.60" cy="173.63" r="2.15"/>
<circle cx="500.30" cy="176.03" r="2.15"/>
<circle cx="507.90" cy="176.23" r="2.15"/>
<circle cx="515.40" cy="177.23" r="2.15"/>
<circle cx="493.90" cy="178.63" r="2.15"/>
<circle cx="524.10" cy="175.83" r="2.15"/>
<circle cx="526.70" cy="173.53" r="2.15"/>
<circle cx="532.90" cy="167.83" r="2.15"/>
<circle cx="539.90" cy="175.53" r="2.15"/>
<circle cx="545.70" cy="168.13" r="2.15"/>
<circle cx="546.30" cy="170.13" r="2.15"/>
<circle cx="552.40" cy="184.73" r="2.15"/>
<circle cx="564.40" cy="186.13" r="2.15"/>
<circle cx="570.10" cy="184.03" r="2.15"/>
<circle cx="571.00" cy="188.43" r="2.15"/>
<circle cx="583.60" cy="216.33" r="2.15"/>
<circle cx="588.20" cy="217.33" r="2.15"/>
<circle cx="612.90" cy="219.23" r="2.15"/>
<circle cx="616.00" cy="230.33" r="2.15"/>
<circle cx="624.50" cy="225.73" r="2.15"/>
<circle cx="624.80" cy="231.33" r="2.15"/>
<circle cx="640.10" cy="233.03" r="2.15"/>
<circle cx="652.90" cy="229.13" r="2.15"/>
<circle cx="652.90" cy="234.93" r="2.15"/>
<circle cx="673.90" cy="238.03" r="2.15"/>
<circle cx="492.50" cy="176.73" r="2.15"/>
<circle cx="491.50" cy="187.13" r="2.15"/>
<circle cx="494.40" cy="191.83" r="2.15"/>
<circle cx="491.40" cy="192.03" r="2.15"/>
<circle cx="489.90" cy="205.83" r="2.15"/>
<circle cx="490.60" cy="207.73" r="2.15"/>
<circle cx="488.90" cy="216.13" r="2.15"/>
<circle cx="488.00" cy="223.23" r="2.15"/>
<circle cx="488.00" cy="228.43" r="2.15"/>
<circle cx="487.30" cy="236.13" r="2.15"/>
<circle cx="487.10" cy="239.33" r="2.15"/>
<circle cx="487.10" cy="241.93" r="2.15"/>
<circle cx="486.90" cy="240.63" r="2.15"/>
<circle cx="487.20" cy="238.13" r="2.15"/>
<circle cx="487.00" cy="242.13" r="2.15"/>
<circle cx="497.50" cy="174.43" r="2.15"/>
<circle cx="491.80" cy="185.63" r="2.15"/>
<circle cx="492.20" cy="188.93" r="2.15"/>
<circle cx="487.10" cy="237.13" r="2.15"/>
<circle cx="487.20" cy="240.13" r="2.15"/>
<circle cx="487.00" cy="242.43" r="2.15"/>
<circle cx="487.30" cy="235.13" r="2.15"/>
<circle cx="486.90" cy="241.33" r="2.15"/>
<circle cx="506.30" cy="167.03" r="2.15"/>
<path d="M486.6,242.7L486.9,240.8L487.2,238.5L487.4,235.8L487.7,232.9L488.0,230.0L488.3,227.3L488.6,224.6L488.8,221.9L489.1,219.2L489.4,216.4L489.7,213.7L490.0,210.9L490.3,208.2L490.5,205.6L490.8,203.1L491.1,200.6L491.4,198.2L491.7,196.0L491.9,193.8L492.2,191.8L492.5,189.8L492.8,188.0L493.1,186.4L493.3,184.8L493.6,183.4L493.9,182.0L494.2,180.7L494.5,179.5L494.7,178.5L495.0,177.4L495.3,176.5L495.6,175.6L495.9,174.7L496.2,173.9L496.4,173.2L496.7,172.4L497.0,171.8L497.3,171.1L497.6,170.5L497.8,169.9L498.1,169.4L498.4,168.9L498.7,168.4L499.0,168.0L499.2,167.6L499.5,167.2L499.8,166.8L500.1,166.4L500.4,166.1L500.6,165.7L500.9,165.5L501.2,165.2L501.5,165.0L501.8,164.8L502.0,164.6L502.3,164.4L502.6,164.3L502.9,164.1L503.2,163.9L503.5,163.8L503.7,163.7L504.0,163.5L504.3,163.4L504.6,163.4L504.9,163.3L505.1,163.3L505.4,163.3L505.7,163.3L506.0,163.3L506.3,163.3L506.5,163.4L506.8,163.4L507.1,163.4L507.4,163.5L507.7,163.5L507.9,163.5L508.2,163.6L508.5,163.6L508.8,163.7L509.1,163.7L509.4,163.8L509.6,163.9L509.9,164.0L510.2,164.1L510.5,164.2L510.8,164.3L511.0,164.4L511.3,164.6L511.6,164.7L513.4,165.6L515.2,166.6L517.1,167.6L518.9,168.8L520.7,170.0L522.5,171.2L524.3,172.4L526.2,173.7L528.0,174.9L529.8,176.2L531.6,177.5L533.5,178.8L535.3,180.1L537.1,181.3L538.9,182.6L540.7,183.8L542.6,185.1L544.4,186.3L546.2,187.4L548.0,188.6L549.8,189.7L551.7,190.8L553.5,191.8L555.3,192.9L557.1,193.9L559.0,194.9L560.8,195.8L562.6,196.8L564.4,197.7L566.2,198.6L568.1,199.5L569.9,200.3L571.7,201.2L573.5,202.0L575.3,202.8L577.2,203.6L579.0,204.4L580.8,205.1L582.6,205.9L584.5,206.6L586.3,207.3L588.1,208.0L589.9,208.7L591.7,209.4L593.6,210.1L595.4,210.7L597.2,211.4L599.0,212.0L600.8,212.7L602.7,213.3L604.5,214.0L606.3,214.6L608.1,215.2L610.0,215.8L611.8,216.4L613.6,217.0L615.4,217.6L617.2,218.1L619.1,218.7L620.9,219.3L622.7,219.8L624.5,220.3L626.3,220.9L628.2,221.4L630.0,221.9L631.8,222.4L633.6,222.9L635.5,223.3L637.3,223.8L639.1,224.3L640.9,224.7L642.7,225.1L644.6,225.5L646.4,225.9L648.2,226.3L650.0,226.7L651.8,227.0L653.7,227.4L655.5,227.7L657.3,228.0L659.1,228.3L661.0,228.6L662.8,228.9L664.6,229.1L666.4,229.4L668.2,229.6L670.1,229.8L671.9,230.0L673.7,230.1" class="cv"/>
<text x="618.84" y="160.73" class="r2">R² = 0.93<tspan class="h1">1</tspan></text>
<text x="618.54" y="171.83" class="pp">p = 4</text>
<rect x="477.60" y="127.40" width="205.30" height="22.10" fill="#D9D9D9"/>
<path d="M477.60,149.50V127.40H682.90V149.50M477.60,149.50V246.70H682.90V149.50" fill="none" class="bd"/>
<line x1="477.30" y1="149.50" x2="683.20" y2="149.50" stroke="#3c3c3c" stroke-width="1"/>
<text x="580.25" y="142.55" class="st">Smith <tspan class="h1">1</tspan>936*</text>
<line x1="109.79" y1="275.30" x2="109.79" y2="373.00" stroke="#F0F0F0" stroke-width="1.2"/>
<line x1="54.50" y1="348.51" x2="259.50" y2="348.51" stroke="#F0F0F0" stroke-width="1.2"/>
<line x1="203.36" y1="275.30" x2="203.36" y2="373.00" stroke="#F0F0F0" stroke-width="1.2"/>
<line x1="54.50" y1="307.81" x2="259.50" y2="307.81" stroke="#F0F0F0" stroke-width="1.2"/>
<line x1="63.00" y1="275.30" x2="63.00" y2="373.00" stroke="#EBEBEB" stroke-width="1.5"/>
<line x1="54.50" y1="368.86" x2="259.50" y2="368.86" stroke="#EBEBEB" stroke-width="1.5"/>
<line x1="156.57" y1="275.30" x2="156.57" y2="373.00" stroke="#EBEBEB" stroke-width="1.5"/>
<line x1="54.50" y1="328.16" x2="259.50" y2="328.16" stroke="#EBEBEB" stroke-width="1.5"/>
<line x1="250.15" y1="275.30" x2="250.15" y2="373.00" stroke="#EBEBEB" stroke-width="1.5"/>
<line x1="54.50" y1="287.46" x2="259.50" y2="287.46" stroke="#EBEBEB" stroke-width="1.5"/>
<circle cx="72.00" cy="287.66" r="2.15"/>
<circle cx="76.60" cy="287.66" r="2.15"/>
<circle cx="96.00" cy="287.36" r="2.15"/>
<circle cx="82.40" cy="291.06" r="2.15"/>
<circle cx="76.10" cy="293.96" r="2.15"/>
<circle cx="87.80" cy="293.36" r="2.15"/>
<circle cx="83.10" cy="294.86" r="2.15"/>
<circle cx="88.40" cy="297.16" r="2.15"/>
<circle cx="72.30" cy="297.56" r="2.15"/>
<circle cx="69.70" cy="300.96" r="2.15"/>
<circle cx="77.00" cy="299.76" r="2.15"/>
<circle cx="76.70" cy="302.16" r="2.15"/>
<circle cx="84.30" cy="302.36" r="2.15"/>
<circle cx="91.80" cy="303.36" r="2.15"/>
<circle cx="70.30" cy="304.76" r="2.15"/>
<circle cx="100.50" cy="301.96" r="2.15"/>
<circle cx="103.10" cy="299.66" r="2.15"/>
<circle cx="109.30" cy="293.96" r="2.15"/>
<circle cx="116.30" cy="301.66" r="2.15"/>
<circle cx="122.10" cy="294.26" r="2.15"/>
<circle cx="122.70" cy="296.26" r="2.15"/>
<circle cx="128.80" cy="310.86" r="2.15"/>
<circle cx="140.80" cy="312.26" r="2.15"/>
<circle cx="146.50" cy="310.16" r="2.15"/>
<circle cx="147.40" cy="314.56" r="2.15"/>
<circle cx="160.00" cy="342.46" r="2.15"/>
<circle cx="164.60" cy="343.46" r="2.15"/>
<circle cx="189.30" cy="345.36" r="2.15"/>
<circle cx="192.40" cy="356.46" r="2.15"/>
<circle cx="200.90" cy="351.86" r="2.15"/>
<circle cx="201.20" cy="357.46" r="2.15"/>
<circle cx="216.50" cy="359.16" r="2.15"/>
<circle cx="229.30" cy="355.26" r="2.15"/>
<circle cx="229.30" cy="361.06" r="2.15"/>
<circle cx="250.30" cy="364.16" r="2.15"/>
<circle cx="68.90" cy="302.86" r="2.15"/>
<circle cx="67.90" cy="313.26" r="2.15"/>
<circle cx="70.80" cy="317.96" r="2.15"/>
<circle cx="67.80" cy="318.16" r="2.15"/>
<circle cx="66.30" cy="331.96" r="2.15"/>
<circle cx="67.00" cy="333.86" r="2.15"/>
<circle cx="65.30" cy="342.26" r="2.15"/>
<circle cx="64.40" cy="349.36" r="2.15"/>
<circle cx="64.40" cy="354.56" r="2.15"/>
<circle cx="63.70" cy="362.26" r="2.15"/>
<circle cx="63.50" cy="365.46" r="2.15"/>
<circle cx="63.50" cy="368.06" r="2.15"/>
<circle cx="63.30" cy="366.76" r="2.15"/>
<circle cx="63.60" cy="364.26" r="2.15"/>
<circle cx="63.40" cy="368.26" r="2.15"/>
<circle cx="73.90" cy="300.56" r="2.15"/>
<circle cx="68.20" cy="311.76" r="2.15"/>
<circle cx="68.60" cy="315.06" r="2.15"/>
<circle cx="63.50" cy="363.26" r="2.15"/>
<circle cx="63.60" cy="366.26" r="2.15"/>
<circle cx="63.40" cy="368.56" r="2.15"/>
<circle cx="63.70" cy="361.26" r="2.15"/>
<circle cx="63.30" cy="367.46" r="2.15"/>
<circle cx="82.70" cy="293.16" r="2.15"/>
<path d="M63.0,368.9L63.3,366.1L63.6,363.5L63.8,361.0L64.1,358.6L64.4,356.0L64.7,353.2L65.0,350.3L65.2,347.2L65.5,344.2L65.8,341.4L66.1,338.6L66.4,335.8L66.7,333.2L66.9,330.8L67.2,328.4L67.5,326.2L67.8,324.0L68.1,321.9L68.3,319.8L68.6,317.8L68.9,315.9L69.2,314.0L69.5,312.4L69.7,310.8L70.0,309.4L70.3,308.0L70.6,306.7L70.9,305.5L71.1,304.5L71.4,303.4L71.7,302.5L72.0,301.6L72.3,300.7L72.6,299.9L72.8,299.2L73.1,298.4L73.4,297.8L73.7,297.1L74.0,296.5L74.2,295.9L74.5,295.4L74.8,294.9L75.1,294.4L75.4,294.0L75.6,293.5L75.9,293.1L76.2,292.8L76.5,292.4L76.8,292.1L77.0,291.8L77.3,291.5L77.6,291.2L77.9,290.9L78.2,290.7L78.4,290.4L78.7,290.2L79.0,290.0L79.3,289.7L79.6,289.5L79.9,289.4L80.1,289.2L80.4,289.1L80.7,289.0L81.0,289.0L81.3,288.9L81.5,288.8L81.8,288.7L82.1,288.7L82.4,288.6L82.7,288.6L82.9,288.5L83.2,288.5L83.5,288.4L83.8,288.4L84.1,288.4L84.3,288.4L84.6,288.4L84.9,288.5L85.2,288.5L85.5,288.6L85.8,288.6L86.0,288.7L86.3,288.7L86.6,288.8L86.9,288.9L87.2,288.9L87.4,289.0L87.7,289.1L88.0,289.2L89.8,289.8L91.6,290.6L93.5,291.6L95.3,292.6L97.1,293.8L98.9,295.1L100.7,296.4L102.6,297.8L104.4,299.2L106.2,300.6L108.0,302.1L109.9,303.6L111.7,305.0L113.5,306.5L115.3,307.9L117.1,309.3L119.0,310.6L120.8,311.9L122.6,313.2L124.4,314.4L126.2,315.6L128.1,316.8L129.9,317.9L131.7,319.0L133.5,320.0L135.4,321.1L137.2,322.1L139.0,323.1L140.8,324.0L142.6,325.0L144.5,325.9L146.3,326.8L148.1,327.6L149.9,328.5L151.7,329.3L153.6,330.1L155.4,330.9L157.2,331.7L159.0,332.4L160.9,333.2L162.7,333.9L164.5,334.7L166.3,335.4L168.1,336.1L170.0,336.8L171.8,337.5L173.6,338.2L175.4,338.9L177.2,339.6L179.1,340.2L180.9,340.9L182.7,341.5L184.5,342.2L186.4,342.8L188.2,343.4L190.0,344.0L191.8,344.6L193.6,345.2L195.5,345.8L197.3,346.3L199.1,346.9L200.9,347.4L202.7,348.0L204.6,348.5L206.4,349.0L208.2,349.5L210.0,350.0L211.9,350.5L213.7,350.9L215.5,351.4L217.3,351.8L219.1,352.2L221.0,352.6L222.8,353.0L224.6,353.4L226.4,353.7L228.2,354.1L230.1,354.4L231.9,354.7L233.7,355.0L235.5,355.3L237.4,355.6L239.2,355.8L241.0,356.0L242.8,356.2L244.6,356.4L246.5,356.6L248.3,356.8L250.1,356.9" class="cv"/>
<text x="195.24" y="286.86" class="r2">R² = 0.930</text>
<text x="194.94" y="297.96" class="pp">p = 4</text>
<rect x="54.50" y="253.40" width="205.00" height="22.10" fill="#D9D9D9"/>
<path d="M54.50,275.50V253.40H259.50V275.50M54.50,275.50V373.00H259.50V275.50" fill="none" class="bd"/>
<line x1="54.20" y1="275.50" x2="259.80" y2="275.50" stroke="#3c3c3c" stroke-width="1"/>
<text x="157.00" y="268.55" class="st">Platt et al. <tspan class="h1">1</tspan>980</text>
<line x1="51.20" y1="368.86" x2="54.50" y2="368.86" class="tk"/>
<text x="48.40" y="374.36" class="ax" text-anchor="end">0.0</text>
<line x1="51.20" y1="328.16" x2="54.50" y2="328.16" class="tk"/>
<text x="48.40" y="333.66" class="ax" text-anchor="end">0.5</text>
<line x1="51.20" y1="287.46" x2="54.50" y2="287.46" class="tk"/>
<text x="48.40" y="292.96" class="ax" text-anchor="end"><tspan class="h1">1</tspan>.0</text>
<line x1="321.59" y1="275.30" x2="321.59" y2="373.00" stroke="#F0F0F0" stroke-width="1.2"/>
<line x1="266.50" y1="348.51" x2="471.50" y2="348.51" stroke="#F0F0F0" stroke-width="1.2"/>
<line x1="415.16" y1="275.30" x2="415.16" y2="373.00" stroke="#F0F0F0" stroke-width="1.2"/>
<line x1="266.50" y1="307.81" x2="471.50" y2="307.81" stroke="#F0F0F0" stroke-width="1.2"/>
<line x1="274.80" y1="275.30" x2="274.80" y2="373.00" stroke="#EBEBEB" stroke-width="1.5"/>
<line x1="266.50" y1="368.86" x2="471.50" y2="368.86" stroke="#EBEBEB" stroke-width="1.5"/>
<line x1="368.38" y1="275.30" x2="368.38" y2="373.00" stroke="#EBEBEB" stroke-width="1.5"/>
<line x1="266.50" y1="328.16" x2="471.50" y2="328.16" stroke="#EBEBEB" stroke-width="1.5"/>
<line x1="461.95" y1="275.30" x2="461.95" y2="373.00" stroke="#EBEBEB" stroke-width="1.5"/>
<line x1="266.50" y1="287.46" x2="471.50" y2="287.46" stroke="#EBEBEB" stroke-width="1.5"/>
<circle cx="283.80" cy="287.66" r="2.15"/>
<circle cx="288.40" cy="287.66" r="2.15"/>
<circle cx="307.80" cy="287.36" r="2.15"/>
<circle cx="294.20" cy="291.06" r="2.15"/>
<circle cx="287.90" cy="293.96" r="2.15"/>
<circle cx="299.60" cy="293.36" r="2.15"/>
<circle cx="294.90" cy="294.86" r="2.15"/>
<circle cx="300.20" cy="297.16" r="2.15"/>
<circle cx="284.10" cy="297.56" r="2.15"/>
<circle cx="281.50" cy="300.96" r="2.15"/>
<circle cx="288.80" cy="299.76" r="2.15"/>
<circle cx="288.50" cy="302.16" r="2.15"/>
<circle cx="296.10" cy="302.36" r="2.15"/>
<circle cx="303.60" cy="303.36" r="2.15"/>
<circle cx="282.10" cy="304.76" r="2.15"/>
<circle cx="312.30" cy="301.96" r="2.15"/>
<circle cx="314.90" cy="299.66" r="2.15"/>
<circle cx="321.10" cy="293.96" r="2.15"/>
<circle cx="328.10" cy="301.66" r="2.15"/>
<circle cx="333.90" cy="294.26" r="2.15"/>
<circle cx="334.50" cy="296.26" r="2.15"/>
<circle cx="340.60" cy="310.86" r="2.15"/>
<circle cx="352.60" cy="312.26" r="2.15"/>
<circle cx="358.30" cy="310.16" r="2.15"/>
<circle cx="359.20" cy="314.56" r="2.15"/>
<circle cx="371.80" cy="342.46" r="2.15"/>
<circle cx="376.40" cy="343.46" r="2.15"/>
<circle cx="401.10" cy="345.36" r="2.15"/>
<circle cx="404.20" cy="356.46" r="2.15"/>
<circle cx="412.70" cy="351.86" r="2.15"/>
<circle cx="413.00" cy="357.46" r="2.15"/>
<circle cx="428.30" cy="359.16" r="2.15"/>
<circle cx="441.10" cy="355.26" r="2.15"/>
<circle cx="441.10" cy="361.06" r="2.15"/>
<circle cx="462.10" cy="364.16" r="2.15"/>
<circle cx="280.70" cy="302.86" r="2.15"/>
<circle cx="279.70" cy="313.26" r="2.15"/>
<circle cx="282.60" cy="317.96" r="2.15"/>
<circle cx="279.60" cy="318.16" r="2.15"/>
<circle cx="278.10" cy="331.96" r="2.15"/>
<circle cx="278.80" cy="333.86" r="2.15"/>
<circle cx="277.10" cy="342.26" r="2.15"/>
<circle cx="276.20" cy="349.36" r="2.15"/>
<circle cx="276.20" cy="354.56" r="2.15"/>
<circle cx="275.50" cy="362.26" r="2.15"/>
<circle cx="275.30" cy="365.46" r="2.15"/>
<circle cx="275.30" cy="368.06" r="2.15"/>
<circle cx="275.10" cy="366.76" r="2.15"/>
<circle cx="275.40" cy="364.26" r="2.15"/>
<circle cx="275.20" cy="368.26" r="2.15"/>
<circle cx="285.70" cy="300.56" r="2.15"/>
<circle cx="280.00" cy="311.76" r="2.15"/>
<circle cx="280.40" cy="315.06" r="2.15"/>
<circle cx="275.30" cy="363.26" r="2.15"/>
<circle cx="275.40" cy="366.26" r="2.15"/>
<circle cx="275.20" cy="368.56" r="2.15"/>
<circle cx="275.50" cy="361.26" r="2.15"/>
<circle cx="275.10" cy="367.46" r="2.15"/>
<circle cx="294.50" cy="293.16" r="2.15"/>
<path d="M274.8,368.9L275.1,365.8L275.4,362.8L275.6,359.8L275.9,356.9L276.2,354.1L276.5,351.3L276.8,348.6L277.0,345.9L277.3,343.2L277.6,340.4L277.9,337.5L278.2,334.8L278.5,332.3L278.7,330.1L279.0,328.2L279.3,326.4L279.6,324.7L279.9,323.0L280.1,321.2L280.4,319.3L280.7,317.1L281.0,314.9L281.3,312.9L281.5,311.2L281.8,309.6L282.1,308.2L282.4,306.8L282.7,305.6L282.9,304.4L283.2,303.3L283.5,302.2L283.8,301.2L284.1,300.2L284.4,299.3L284.6,298.5L284.9,297.7L285.2,297.0L285.5,296.3L285.8,295.6L286.0,294.9L286.3,294.3L286.6,293.8L286.9,293.2L287.2,292.7L287.4,292.2L287.7,291.7L288.0,291.3L288.3,290.8L288.6,290.4L288.8,290.1L289.1,289.9L289.4,289.7L289.7,289.5L290.0,289.3L290.2,289.1L290.5,288.9L290.8,288.7L291.1,288.6L291.4,288.5L291.7,288.4L291.9,288.4L292.2,288.4L292.5,288.4L292.8,288.4L293.1,288.5L293.3,288.5L293.6,288.6L293.9,288.7L294.2,288.7L294.5,288.8L294.7,288.9L295.0,289.0L295.3,289.1L295.6,289.2L295.9,289.3L296.1,289.4L296.4,289.5L296.7,289.6L297.0,289.8L297.3,289.9L297.6,290.1L297.8,290.2L298.1,290.4L298.4,290.6L298.7,290.7L299.0,290.9L299.2,291.0L299.5,291.2L299.8,291.3L301.6,292.5L303.4,293.6L305.3,294.9L307.1,296.2L308.9,297.5L310.7,298.8L312.5,300.1L314.4,301.5L316.2,302.8L318.0,304.1L319.8,305.4L321.7,306.7L323.5,308.0L325.3,309.3L327.1,310.5L328.9,311.6L330.8,312.8L332.6,313.9L334.4,315.0L336.2,316.1L338.0,317.1L339.9,318.1L341.7,319.1L343.5,320.0L345.3,321.0L347.2,321.9L349.0,322.8L350.8,323.6L352.6,324.5L354.4,325.3L356.3,326.1L358.1,326.9L359.9,327.7L361.7,328.4L363.5,329.2L365.4,329.9L367.2,330.6L369.0,331.3L370.8,332.0L372.7,332.7L374.5,333.4L376.3,334.0L378.1,334.7L379.9,335.3L381.8,336.0L383.6,336.6L385.4,337.2L387.2,337.9L389.0,338.5L390.9,339.1L392.7,339.7L394.5,340.3L396.3,340.8L398.2,341.4L400.0,342.0L401.8,342.5L403.6,343.1L405.4,343.6L407.3,344.1L409.1,344.7L410.9,345.2L412.7,345.7L414.5,346.2L416.4,346.6L418.2,347.1L420.0,347.6L421.8,348.0L423.7,348.5L425.5,348.9L427.3,349.3L429.1,349.8L430.9,350.2L432.8,350.6L434.6,351.0L436.4,351.3L438.2,351.7L440.0,352.0L441.9,352.4L443.7,352.7L445.5,353.0L447.3,353.4L449.2,353.7L451.0,353.9L452.8,354.2L454.6,354.5L456.4,354.8L458.3,355.0L460.1,355.2L461.9,355.4" class="cv"/>
<text x="407.04" y="286.86" class="r2">R² = 0.922</text>
<text x="406.74" y="297.96" class="pp">p = 4</text>
<rect x="266.50" y="253.40" width="205.00" height="22.10" fill="#D9D9D9"/>
<path d="M266.50,275.50V253.40H471.50V275.50M266.50,275.50V373.00H471.50V275.50" fill="none" class="bd"/>
<line x1="266.20" y1="275.50" x2="471.80" y2="275.50" stroke="#3c3c3c" stroke-width="1"/>
<text x="369.00" y="268.55" class="st">Neale &amp; Richerson <tspan class="h1">1</tspan>987</text>
<line x1="533.39" y1="275.30" x2="533.39" y2="373.00" stroke="#F0F0F0" stroke-width="1.2"/>
<line x1="477.60" y1="348.51" x2="682.90" y2="348.51" stroke="#F0F0F0" stroke-width="1.2"/>
<line x1="626.96" y1="275.30" x2="626.96" y2="373.00" stroke="#F0F0F0" stroke-width="1.2"/>
<line x1="477.60" y1="307.81" x2="682.90" y2="307.81" stroke="#F0F0F0" stroke-width="1.2"/>
<line x1="486.60" y1="275.30" x2="486.60" y2="373.00" stroke="#EBEBEB" stroke-width="1.5"/>
<line x1="477.60" y1="368.86" x2="682.90" y2="368.86" stroke="#EBEBEB" stroke-width="1.5"/>
<line x1="580.18" y1="275.30" x2="580.18" y2="373.00" stroke="#EBEBEB" stroke-width="1.5"/>
<line x1="477.60" y1="328.16" x2="682.90" y2="328.16" stroke="#EBEBEB" stroke-width="1.5"/>
<line x1="673.75" y1="275.30" x2="673.75" y2="373.00" stroke="#EBEBEB" stroke-width="1.5"/>
<line x1="477.60" y1="287.46" x2="682.90" y2="287.46" stroke="#EBEBEB" stroke-width="1.5"/>
<circle cx="495.60" cy="287.66" r="2.15"/>
<circle cx="500.20" cy="287.66" r="2.15"/>
<circle cx="519.60" cy="287.36" r="2.15"/>
<circle cx="506.00" cy="291.06" r="2.15"/>
<circle cx="499.70" cy="293.96" r="2.15"/>
<circle cx="511.40" cy="293.36" r="2.15"/>
<circle cx="506.70" cy="294.86" r="2.15"/>
<circle cx="512.00" cy="297.16" r="2.15"/>
<circle cx="495.90" cy="297.56" r="2.15"/>
<circle cx="493.30" cy="300.96" r="2.15"/>
<circle cx="500.60" cy="299.76" r="2.15"/>
<circle cx="500.30" cy="302.16" r="2.15"/>
<circle cx="507.90" cy="302.36" r="2.15"/>
<circle cx="515.40" cy="303.36" r="2.15"/>
<circle cx="493.90" cy="304.76" r="2.15"/>
<circle cx="524.10" cy="301.96" r="2.15"/>
<circle cx="526.70" cy="299.66" r="2.15"/>
<circle cx="532.90" cy="293.96" r="2.15"/>
<circle cx="539.90" cy="301.66" r="2.15"/>
<circle cx="545.70" cy="294.26" r="2.15"/>
<circle cx="546.30" cy="296.26" r="2.15"/>
<circle cx="552.40" cy="310.86" r="2.15"/>
<circle cx="564.40" cy="312.26" r="2.15"/>
<circle cx="570.10" cy="310.16" r="2.15"/>
<circle cx="571.00" cy="314.56" r="2.15"/>
<circle cx="583.60" cy="342.46" r="2.15"/>
<circle cx="588.20" cy="343.46" r="2.15"/>
<circle cx="612.90" cy="345.36" r="2.15"/>
<circle cx="616.00" cy="356.46" r="2.15"/>
<circle cx="624.50" cy="351.86" r="2.15"/>
<circle cx="624.80" cy="357.46" r="2.15"/>
<circle cx="640.10" cy="359.16" r="2.15"/>
<circle cx="652.90" cy="355.26" r="2.15"/>
<circle cx="652.90" cy="361.06" r="2.15"/>
<circle cx="673.90" cy="364.16" r="2.15"/>
<circle cx="492.50" cy="302.86" r="2.15"/>
<circle cx="491.50" cy="313.26" r="2.15"/>
<circle cx="494.40" cy="317.96" r="2.15"/>
<circle cx="491.40" cy="318.16" r="2.15"/>
<circle cx="489.90" cy="331.96" r="2.15"/>
<circle cx="490.60" cy="333.86" r="2.15"/>
<circle cx="488.90" cy="342.26" r="2.15"/>
<circle cx="488.00" cy="349.36" r="2.15"/>
<circle cx="488.00" cy="354.56" r="2.15"/>
<circle cx="487.30" cy="362.26" r="2.15"/>
<circle cx="487.10" cy="365.46" r="2.15"/>
<circle cx="487.10" cy="368.06" r="2.15"/>
<circle cx="486.90" cy="366.76" r="2.15"/>
<circle cx="487.20" cy="364.26" r="2.15"/>
<circle cx="487.00" cy="368.26" r="2.15"/>
<circle cx="497.50" cy="300.56" r="2.15"/>
<circle cx="491.80" cy="311.76" r="2.15"/>
<circle cx="492.20" cy="315.06" r="2.15"/>
<circle cx="487.10" cy="363.26" r="2.15"/>
<circle cx="487.20" cy="366.26" r="2.15"/>
<circle cx="487.00" cy="368.56" r="2.15"/>
<circle cx="487.30" cy="361.26" r="2.15"/>
<circle cx="486.90" cy="367.46" r="2.15"/>
<circle cx="506.30" cy="293.16" r="2.15"/>
<path d="M486.60,368.86L493.34,301.71L567.26,301.71L647.36,368.86" class="cv"/>
<text x="618.84" y="286.86" class="r2">R² = 0.90<tspan class="h1">1</tspan></text>
<text x="618.54" y="297.96" class="pp">p = 4</text>
<rect x="477.60" y="253.40" width="205.30" height="22.10" fill="#D9D9D9"/>
<path d="M477.60,275.50V253.40H682.90V275.50M477.60,275.50V373.00H682.90V275.50" fill="none" class="bd"/>
<line x1="477.30" y1="275.50" x2="683.20" y2="275.50" stroke="#3c3c3c" stroke-width="1"/>
<text x="580.25" y="268.55" class="st">Blackman <tspan class="h1">1</tspan>905*</text>
<line x1="486.60" y1="373.00" x2="486.60" y2="376.00" class="tk"/>
<text x="486.60" y="389.60" class="ax" text-anchor="middle">0.0</text>
<line x1="580.18" y1="373.00" x2="580.18" y2="376.00" class="tk"/>
<text x="580.18" y="389.60" class="ax" text-anchor="middle">0.5</text>
<line x1="673.75" y1="373.00" x2="673.75" y2="376.00" class="tk"/>
<text x="673.75" y="389.60" class="ax" text-anchor="middle"><tspan class="h1">1</tspan>.0</text>
<line x1="109.79" y1="401.30" x2="109.79" y2="499.40" stroke="#F0F0F0" stroke-width="1.2"/>
<line x1="54.50" y1="474.64" x2="259.50" y2="474.64" stroke="#F0F0F0" stroke-width="1.2"/>
<line x1="203.36" y1="401.30" x2="203.36" y2="499.40" stroke="#F0F0F0" stroke-width="1.2"/>
<line x1="54.50" y1="433.94" x2="259.50" y2="433.94" stroke="#F0F0F0" stroke-width="1.2"/>
<line x1="63.00" y1="401.30" x2="63.00" y2="499.40" stroke="#EBEBEB" stroke-width="1.5"/>
<line x1="54.50" y1="494.99" x2="259.50" y2="494.99" stroke="#EBEBEB" stroke-width="1.5"/>
<line x1="156.57" y1="401.30" x2="156.57" y2="499.40" stroke="#EBEBEB" stroke-width="1.5"/>
<line x1="54.50" y1="454.29" x2="259.50" y2="454.29" stroke="#EBEBEB" stroke-width="1.5"/>
<line x1="250.15" y1="401.30" x2="250.15" y2="499.40" stroke="#EBEBEB" stroke-width="1.5"/>
<line x1="54.50" y1="413.59" x2="259.50" y2="413.59" stroke="#EBEBEB" stroke-width="1.5"/>
<circle cx="72.00" cy="413.79" r="2.15"/>
<circle cx="76.60" cy="413.79" r="2.15"/>
<circle cx="96.00" cy="413.49" r="2.15"/>
<circle cx="82.40" cy="417.19" r="2.15"/>
<circle cx="76.10" cy="420.09" r="2.15"/>
<circle cx="87.80" cy="419.49" r="2.15"/>
<circle cx="83.10" cy="420.99" r="2.15"/>
<circle cx="88.40" cy="423.29" r="2.15"/>
<circle cx="72.30" cy="423.69" r="2.15"/>
<circle cx="69.70" cy="427.09" r="2.15"/>
<circle cx="77.00" cy="425.89" r="2.15"/>
<circle cx="76.70" cy="428.29" r="2.15"/>
<circle cx="84.30" cy="428.49" r="2.15"/>
<circle cx="91.80" cy="429.49" r="2.15"/>
<circle cx="70.30" cy="430.89" r="2.15"/>
<circle cx="100.50" cy="428.09" r="2.15"/>
<circle cx="103.10" cy="425.79" r="2.15"/>
<circle cx="109.30" cy="420.09" r="2.15"/>
<circle cx="116.30" cy="427.79" r="2.15"/>
<circle cx="122.10" cy="420.39" r="2.15"/>
<circle cx="122.70" cy="422.39" r="2.15"/>
<circle cx="128.80" cy="436.99" r="2.15"/>
<circle cx="140.80" cy="438.39" r="2.15"/>
<circle cx="146.50" cy="436.29" r="2.15"/>
<circle cx="147.40" cy="440.69" r="2.15"/>
<circle cx="160.00" cy="468.59" r="2.15"/>
<circle cx="164.60" cy="469.59" r="2.15"/>
<circle cx="189.30" cy="471.49" r="2.15"/>
<circle cx="192.40" cy="482.59" r="2.15"/>
<circle cx="200.90" cy="477.99" r="2.15"/>
<circle cx="201.20" cy="483.59" r="2.15"/>
<circle cx="216.50" cy="485.29" r="2.15"/>
<circle cx="229.30" cy="481.39" r="2.15"/>
<circle cx="229.30" cy="487.19" r="2.15"/>
<circle cx="250.30" cy="490.29" r="2.15"/>
<circle cx="68.90" cy="428.99" r="2.15"/>
<circle cx="67.90" cy="439.39" r="2.15"/>
<circle cx="70.80" cy="444.09" r="2.15"/>
<circle cx="67.80" cy="444.29" r="2.15"/>
<circle cx="66.30" cy="458.09" r="2.15"/>
<circle cx="67.00" cy="459.99" r="2.15"/>
<circle cx="65.30" cy="468.39" r="2.15"/>
<circle cx="64.40" cy="475.49" r="2.15"/>
<circle cx="64.40" cy="480.69" r="2.15"/>
<circle cx="63.70" cy="488.39" r="2.15"/>
<circle cx="63.50" cy="491.59" r="2.15"/>
<circle cx="63.50" cy="494.19" r="2.15"/>
<circle cx="63.30" cy="492.89" r="2.15"/>
<circle cx="63.60" cy="490.39" r="2.15"/>
<circle cx="63.40" cy="494.39" r="2.15"/>
<circle cx="73.90" cy="426.69" r="2.15"/>
<circle cx="68.20" cy="437.89" r="2.15"/>
<circle cx="68.60" cy="441.19" r="2.15"/>
<circle cx="63.50" cy="489.39" r="2.15"/>
<circle cx="63.60" cy="492.39" r="2.15"/>
<circle cx="63.40" cy="494.69" r="2.15"/>
<circle cx="63.70" cy="487.39" r="2.15"/>
<circle cx="63.30" cy="493.59" r="2.15"/>
<circle cx="82.70" cy="419.29" r="2.15"/>
<path d="M63.0,495.0L63.3,492.1L63.6,489.5L63.8,487.0L64.1,484.6L64.4,482.0L64.7,479.2L65.0,476.3L65.2,473.2L65.5,470.2L65.8,467.4L66.1,464.6L66.4,461.8L66.7,459.2L66.9,456.8L67.2,454.4L67.5,452.2L67.8,450.0L68.1,447.9L68.3,445.8L68.6,443.7L68.9,441.7L69.2,439.7L69.5,438.1L69.7,436.6L70.0,435.2L70.3,433.9L70.6,432.7L70.9,431.5L71.1,430.5L71.4,429.4L71.7,428.5L72.0,427.6L72.3,426.7L72.6,425.9L72.8,425.2L73.1,424.4L73.4,423.7L73.7,423.1L74.0,422.5L74.2,421.9L74.5,421.3L74.8,420.9L75.1,420.4L75.4,420.0L75.6,419.6L75.9,419.2L76.2,418.9L76.5,418.5L76.8,418.2L77.0,418.0L77.3,417.7L77.6,417.5L77.9,417.3L78.2,417.1L78.4,417.0L78.7,416.8L79.0,416.7L79.3,416.6L79.6,416.4L79.9,416.3L80.1,416.2L80.4,416.1L80.7,416.0L81.0,416.0L81.3,415.9L81.5,415.9L81.8,415.9L82.1,415.9L82.4,416.0L82.7,416.0L82.9,416.0L83.2,416.0L83.5,416.1L83.8,416.1L84.1,416.2L84.3,416.2L84.6,416.3L84.9,416.3L85.2,416.4L85.5,416.5L85.8,416.5L86.0,416.6L86.3,416.7L86.6,416.8L86.9,417.0L87.2,417.1L87.4,417.2L87.7,417.4L88.0,417.5L89.8,418.4L91.6,419.6L93.5,420.8L95.3,422.2L97.1,423.6L98.9,425.1L100.7,426.6L102.6,428.1L104.4,429.7L106.2,431.2L108.0,432.6L109.9,434.0L111.7,435.4L113.5,436.7L115.3,438.0L117.1,439.2L119.0,440.3L120.8,441.5L122.6,442.5L124.4,443.6L126.2,444.6L128.1,445.5L129.9,446.4L131.7,447.3L133.5,448.2L135.4,449.0L137.2,449.8L139.0,450.5L140.8,451.3L142.6,452.0L144.5,452.7L146.3,453.3L148.1,454.0L149.9,454.6L151.7,455.2L153.6,455.8L155.4,456.3L157.2,456.9L159.0,457.4L160.9,458.0L162.7,458.5L164.5,459.0L166.3,459.5L168.1,460.0L170.0,460.5L171.8,461.0L173.6,461.5L175.4,461.9L177.2,462.4L179.1,462.8L180.9,463.3L182.7,463.7L184.5,464.1L186.4,464.5L188.2,464.9L190.0,465.3L191.8,465.7L193.6,466.1L195.5,466.4L197.3,466.8L199.1,467.1L200.9,467.5L202.7,467.8L204.6,468.1L206.4,468.4L208.2,468.7L210.0,469.0L211.9,469.3L213.7,469.6L215.5,469.9L217.3,470.2L219.1,470.4L221.0,470.7L222.8,470.9L224.6,471.2L226.4,471.4L228.2,471.6L230.1,471.8L231.9,472.1L233.7,472.3L235.5,472.5L237.4,472.6L239.2,472.8L241.0,473.0L242.8,473.2L244.6,473.3L246.5,473.5L248.3,473.6L250.1,473.8" class="cv"/>
<text x="195.24" y="412.99" class="r2">R² = 0.899</text>
<text x="194.94" y="424.09" class="pp">p = 4</text>
<rect x="54.50" y="379.40" width="205.00" height="22.10" fill="#D9D9D9"/>
<path d="M54.50,401.50V379.40H259.50V401.50M54.50,401.50V499.40H259.50V401.50" fill="none" class="bd"/>
<line x1="54.20" y1="401.50" x2="259.80" y2="401.50" stroke="#3c3c3c" stroke-width="1"/>
<text x="157.00" y="394.55" class="st">Peeters &amp; Eilers <tspan class="h1">1</tspan>978</text>
<line x1="51.20" y1="494.99" x2="54.50" y2="494.99" class="tk"/>
<text x="48.40" y="500.49" class="ax" text-anchor="end">0.0</text>
<line x1="51.20" y1="454.29" x2="54.50" y2="454.29" class="tk"/>
<text x="48.40" y="459.79" class="ax" text-anchor="end">0.5</text>
<line x1="51.20" y1="413.59" x2="54.50" y2="413.59" class="tk"/>
<text x="48.40" y="419.09" class="ax" text-anchor="end"><tspan class="h1">1</tspan>.0</text>
<line x1="63.00" y1="499.40" x2="63.00" y2="502.40" class="tk"/>
<text x="63.00" y="516.00" class="ax" text-anchor="middle">0.0</text>
<line x1="156.57" y1="499.40" x2="156.57" y2="502.40" class="tk"/>
<text x="156.57" y="516.00" class="ax" text-anchor="middle">0.5</text>
<line x1="250.15" y1="499.40" x2="250.15" y2="502.40" class="tk"/>
<text x="250.15" y="516.00" class="ax" text-anchor="middle"><tspan class="h1">1</tspan>.0</text>
<line x1="321.59" y1="401.30" x2="321.59" y2="499.40" stroke="#F0F0F0" stroke-width="1.2"/>
<line x1="266.50" y1="474.64" x2="471.50" y2="474.64" stroke="#F0F0F0" stroke-width="1.2"/>
<line x1="415.16" y1="401.30" x2="415.16" y2="499.40" stroke="#F0F0F0" stroke-width="1.2"/>
<line x1="266.50" y1="433.94" x2="471.50" y2="433.94" stroke="#F0F0F0" stroke-width="1.2"/>
<line x1="274.80" y1="401.30" x2="274.80" y2="499.40" stroke="#EBEBEB" stroke-width="1.5"/>
<line x1="266.50" y1="494.99" x2="471.50" y2="494.99" stroke="#EBEBEB" stroke-width="1.5"/>
<line x1="368.38" y1="401.30" x2="368.38" y2="499.40" stroke="#EBEBEB" stroke-width="1.5"/>
<line x1="266.50" y1="454.29" x2="471.50" y2="454.29" stroke="#EBEBEB" stroke-width="1.5"/>
<line x1="461.95" y1="401.30" x2="461.95" y2="499.40" stroke="#EBEBEB" stroke-width="1.5"/>
<line x1="266.50" y1="413.59" x2="471.50" y2="413.59" stroke="#EBEBEB" stroke-width="1.5"/>
<circle cx="283.80" cy="413.79" r="2.15"/>
<circle cx="288.40" cy="413.79" r="2.15"/>
<circle cx="307.80" cy="413.49" r="2.15"/>
<circle cx="294.20" cy="417.19" r="2.15"/>
<circle cx="287.90" cy="420.09" r="2.15"/>
<circle cx="299.60" cy="419.49" r="2.15"/>
<circle cx="294.90" cy="420.99" r="2.15"/>
<circle cx="300.20" cy="423.29" r="2.15"/>
<circle cx="284.10" cy="423.69" r="2.15"/>
<circle cx="281.50" cy="427.09" r="2.15"/>
<circle cx="288.80" cy="425.89" r="2.15"/>
<circle cx="288.50" cy="428.29" r="2.15"/>
<circle cx="296.10" cy="428.49" r="2.15"/>
<circle cx="303.60" cy="429.49" r="2.15"/>
<circle cx="282.10" cy="430.89" r="2.15"/>
<circle cx="312.30" cy="428.09" r="2.15"/>
<circle cx="314.90" cy="425.79" r="2.15"/>
<circle cx="321.10" cy="420.09" r="2.15"/>
<circle cx="328.10" cy="427.79" r="2.15"/>
<circle cx="333.90" cy="420.39" r="2.15"/>
<circle cx="334.50" cy="422.39" r="2.15"/>
<circle cx="340.60" cy="436.99" r="2.15"/>
<circle cx="352.60" cy="438.39" r="2.15"/>
<circle cx="358.30" cy="436.29" r="2.15"/>
<circle cx="359.20" cy="440.69" r="2.15"/>
<circle cx="371.80" cy="468.59" r="2.15"/>
<circle cx="376.40" cy="469.59" r="2.15"/>
<circle cx="401.10" cy="471.49" r="2.15"/>
<circle cx="404.20" cy="482.59" r="2.15"/>
<circle cx="412.70" cy="477.99" r="2.15"/>
<circle cx="413.00" cy="483.59" r="2.15"/>
<circle cx="428.30" cy="485.29" r="2.15"/>
<circle cx="441.10" cy="481.39" r="2.15"/>
<circle cx="441.10" cy="487.19" r="2.15"/>
<circle cx="462.10" cy="490.29" r="2.15"/>
<circle cx="280.70" cy="428.99" r="2.15"/>
<circle cx="279.70" cy="439.39" r="2.15"/>
<circle cx="282.60" cy="444.09" r="2.15"/>
<circle cx="279.60" cy="444.29" r="2.15"/>
<circle cx="278.10" cy="458.09" r="2.15"/>
<circle cx="278.80" cy="459.99" r="2.15"/>
<circle cx="277.10" cy="468.39" r="2.15"/>
<circle cx="276.20" cy="475.49" r="2.15"/>
<circle cx="276.20" cy="480.69" r="2.15"/>
<circle cx="275.50" cy="488.39" r="2.15"/>
<circle cx="275.30" cy="491.59" r="2.15"/>
<circle cx="275.30" cy="494.19" r="2.15"/>
<circle cx="275.10" cy="492.89" r="2.15"/>
<circle cx="275.40" cy="490.39" r="2.15"/>
<circle cx="275.20" cy="494.39" r="2.15"/>
<circle cx="285.70" cy="426.69" r="2.15"/>
<circle cx="280.00" cy="437.89" r="2.15"/>
<circle cx="280.40" cy="441.19" r="2.15"/>
<circle cx="275.30" cy="489.39" r="2.15"/>
<circle cx="275.40" cy="492.39" r="2.15"/>
<circle cx="275.20" cy="494.69" r="2.15"/>
<circle cx="275.50" cy="487.39" r="2.15"/>
<circle cx="275.10" cy="493.59" r="2.15"/>
<circle cx="294.50" cy="419.29" r="2.15"/>
<path d="M274.8,495.0L275.1,491.3L275.4,488.0L275.6,485.2L275.9,483.0L276.2,481.1L276.5,479.3L276.8,477.6L277.0,475.9L277.3,473.9L277.6,472.0L277.9,470.1L278.2,468.2L278.5,466.3L278.7,464.4L279.0,462.6L279.3,460.7L279.6,458.9L279.9,457.2L280.1,455.5L280.4,454.0L280.7,452.5L281.0,451.1L281.3,449.8L281.5,448.5L281.8,447.2L282.1,446.1L282.4,445.0L282.7,444.0L282.9,443.0L283.2,442.1L283.5,441.0L283.8,440.0L284.1,438.9L284.4,437.7L284.6,436.6L284.9,435.5L285.2,434.4L285.5,433.3L285.8,432.2L286.0,431.1L286.3,430.1L286.6,429.1L286.9,428.1L287.2,427.1L287.4,426.1L287.7,425.2L288.0,424.4L288.3,423.6L288.6,422.7L288.8,421.9L289.1,421.2L289.4,420.4L289.7,419.7L290.0,419.1L290.2,418.4L290.5,417.8L290.8,417.2L291.1,416.6L291.4,416.1L291.7,415.5L291.9,415.0L292.2,414.5L292.5,414.0L292.8,413.6L293.1,413.1L293.3,412.7L293.6,412.3L293.9,411.9L294.2,411.5L294.5,411.1L294.7,410.7L295.0,410.3L295.3,410.0L295.6,409.6L295.9,409.3L296.1,409.0L296.4,408.7L296.7,408.5L297.0,408.2L297.3,408.0L297.6,407.7L297.8,407.5L298.1,407.3L298.4,407.1L298.7,406.9L299.0,406.7L299.2,406.5L299.5,406.3L299.8,406.2L301.6,405.5L303.4,405.4L305.3,405.8L307.1,406.4L308.9,407.3L310.7,408.5L312.5,409.7L314.4,411.2L316.2,412.8L318.0,414.5L319.8,416.2L321.6,418.1L323.4,420.0L325.3,422.0L327.1,424.0L328.9,426.1L330.7,428.1L332.5,430.2L334.4,432.3L336.2,434.3L338.0,436.3L339.8,438.2L341.6,440.2L343.5,442.1L345.3,444.0L347.1,445.8L348.9,447.7L350.7,449.5L352.6,451.3L354.4,453.1L356.2,454.9L358.0,456.6L359.8,458.3L361.6,460.0L363.5,461.5L365.3,463.0L367.1,464.4L368.9,465.8L370.7,467.1L372.6,468.4L374.4,469.5L376.2,470.7L378.0,471.8L379.8,472.8L381.7,473.8L383.5,474.8L385.3,475.7L387.1,476.6L388.9,477.4L390.8,478.3L392.6,479.0L394.4,479.8L396.2,480.5L398.0,481.2L399.9,481.9L401.7,482.5L403.5,483.1L405.3,483.7L407.1,484.3L408.9,484.8L410.8,485.3L412.6,485.8L414.4,486.3L416.2,486.7L418.0,487.1L419.9,487.5L421.7,487.9L423.5,488.3L425.3,488.6L427.1,488.9L429.0,489.3L430.8,489.5L432.6,489.8L434.4,490.1L436.2,490.3L438.1,490.6L439.9,490.8L441.7,491.0L443.5,491.2L445.3,491.4L447.1,491.6L449.0,491.8L450.8,492.0L452.6,492.1L454.4,492.3L456.2,492.5L458.1,492.6L459.9,492.8L461.7,492.9" class="cv"/>
<text x="407.04" y="412.99" class="r2">R² = 0.858</text>
<text x="406.74" y="424.09" class="pp">p = 3</text>
<rect x="266.50" y="379.40" width="205.00" height="22.10" fill="#D9D9D9"/>
<path d="M266.50,401.50V379.40H471.50V401.50M266.50,401.50V499.40H471.50V401.50" fill="none" class="bd"/>
<line x1="266.20" y1="401.50" x2="471.80" y2="401.50" stroke="#3c3c3c" stroke-width="1"/>
<text x="369.00" y="394.55" class="st">Steele <tspan class="h1">1</tspan>962</text>
<line x1="274.80" y1="499.40" x2="274.80" y2="502.40" class="tk"/>
<text x="274.80" y="516.00" class="ax" text-anchor="middle">0.0</text>
<line x1="368.38" y1="499.40" x2="368.38" y2="502.40" class="tk"/>
<text x="368.38" y="516.00" class="ax" text-anchor="middle">0.5</text>
<line x1="461.95" y1="499.40" x2="461.95" y2="502.40" class="tk"/>
<text x="461.95" y="516.00" class="ax" text-anchor="middle"><tspan class="h1">1</tspan>.0</text>
<g fill="#000">
<text x="347.8" y="537.6" font-size="17.7">I</text>
<line x1="354.3" y1="539.6" x2="359.8" y2="522.2" stroke="#000" stroke-width="1.2"/>
<text x="362.4" y="537.6" font-size="17.7">I</text>
<text x="366.6" y="540.0" font-size="11.8">max</text>
<g transform="translate(16.6,287.3) rotate(-90)">
<text x="0" y="0" font-size="17.7">P</text>
<line x1="11.6" y1="1.7" x2="16.6" y2="-15.3" stroke="#000" stroke-width="1.2"/>
<text x="19.8" y="0" font-size="17.7">P</text>
<text x="32.0" y="3.2" font-size="11.8">max</text>
</g>
</g>
<path d="M515,0L696,0L696,1409L530,1409L197,1180L197,1010L515,1237Z" transform="translate(26.84,40.70) scale(0.00757,-0.00757)" fill="rgb(0, 0, 0)"/>
<path d="M515,0L696,0L696,1409L530,1409L197,1180L197,1010L515,1237Z" transform="translate(401.00,16.65) scale(0.00640,-0.00640)" fill="rgb(26, 26, 26)"/>
<path d="M515,0L696,0L696,1409L530,1409L197,1180L197,1010L515,1237Z" transform="translate(592.61,16.65) scale(0.00640,-0.00640)" fill="rgb(26, 26, 26)"/>
<path d="M515,0L696,0L696,1409L530,1409L197,1180L197,1010L515,1237Z" transform="translate(247.01,160.73) scale(0.00610,-0.00610)" fill="rgb(139, 16, 16)"/>
<path d="M515,0L696,0L696,1409L530,1409L197,1180L197,1010L515,1237Z" transform="translate(154.43,142.55) scale(0.00640,-0.00640)" fill="rgb(26, 26, 26)"/>
<path d="M515,0L696,0L696,1409L530,1409L197,1180L197,1010L515,1237Z" transform="translate(26.84,166.83) scale(0.00757,-0.00757)" fill="rgb(0, 0, 0)"/>
<path d="M515,0L696,0L696,1409L530,1409L197,1180L197,1010L515,1237Z" transform="translate(401.73,142.55) scale(0.00640,-0.00640)" fill="rgb(26, 26, 26)"/>
<path d="M515,0L696,0L696,1409L530,1409L197,1180L197,1010L515,1237Z" transform="translate(670.61,160.73) scale(0.00610,-0.00610)" fill="rgb(139, 16, 16)"/>
<path d="M515,0L696,0L696,1409L530,1409L197,1180L197,1010L515,1237Z" transform="translate(581.68,142.55) scale(0.00640,-0.00640)" fill="rgb(26, 26, 26)"/>
<path d="M515,0L696,0L696,1409L530,1409L197,1180L197,1010L515,1237Z" transform="translate(173.36,268.55) scale(0.00640,-0.00640)" fill="rgb(26, 26, 26)"/>
<path d="M515,0L696,0L696,1409L530,1409L197,1180L197,1010L515,1237Z" transform="translate(26.84,292.96) scale(0.00757,-0.00757)" fill="rgb(0, 0, 0)"/>
<path d="M515,0L696,0L696,1409L530,1409L197,1180L197,1010L515,1237Z" transform="translate(410.83,268.55) scale(0.00640,-0.00640)" fill="rgb(26, 26, 26)"/>
<path d="M515,0L696,0L696,1409L530,1409L197,1180L197,1010L515,1237Z" transform="translate(670.61,286.86) scale(0.00610,-0.00610)" fill="rgb(139, 16, 16)"/>
<path d="M515,0L696,0L696,1409L530,1409L197,1180L197,1010L515,1237Z" transform="translate(593.70,268.55) scale(0.00640,-0.00640)" fill="rgb(26, 26, 26)"/>
<path d="M515,0L696,0L696,1409L530,1409L197,1180L197,1010L515,1237Z" transform="translate(662.97,389.60) scale(0.00757,-0.00757)" fill="rgb(0, 0, 0)"/>
<path d="M515,0L696,0L696,1409L530,1409L197,1180L197,1010L515,1237Z" transform="translate(191.18,394.55) scale(0.00640,-0.00640)" fill="rgb(26, 26, 26)"/>
<path d="M515,0L696,0L696,1409L530,1409L197,1180L197,1010L515,1237Z" transform="translate(26.84,419.09) scale(0.00757,-0.00757)" fill="rgb(0, 0, 0)"/>
<path d="M515,0L696,0L696,1409L530,1409L197,1180L197,1010L515,1237Z" transform="translate(239.37,516.00) scale(0.00757,-0.00757)" fill="rgb(0, 0, 0)"/>
<path d="M515,0L696,0L696,1409L530,1409L197,1180L197,1010L515,1237Z" transform="translate(374.80,394.55) scale(0.00640,-0.00640)" fill="rgb(26, 26, 26)"/>
<path d="M515,0L696,0L696,1409L530,1409L197,1180L197,1010L515,1237Z" transform="translate(451.17,516.00) scale(0.00757,-0.00757)" fill="rgb(0, 0, 0)"/>
</svg></body></html>
